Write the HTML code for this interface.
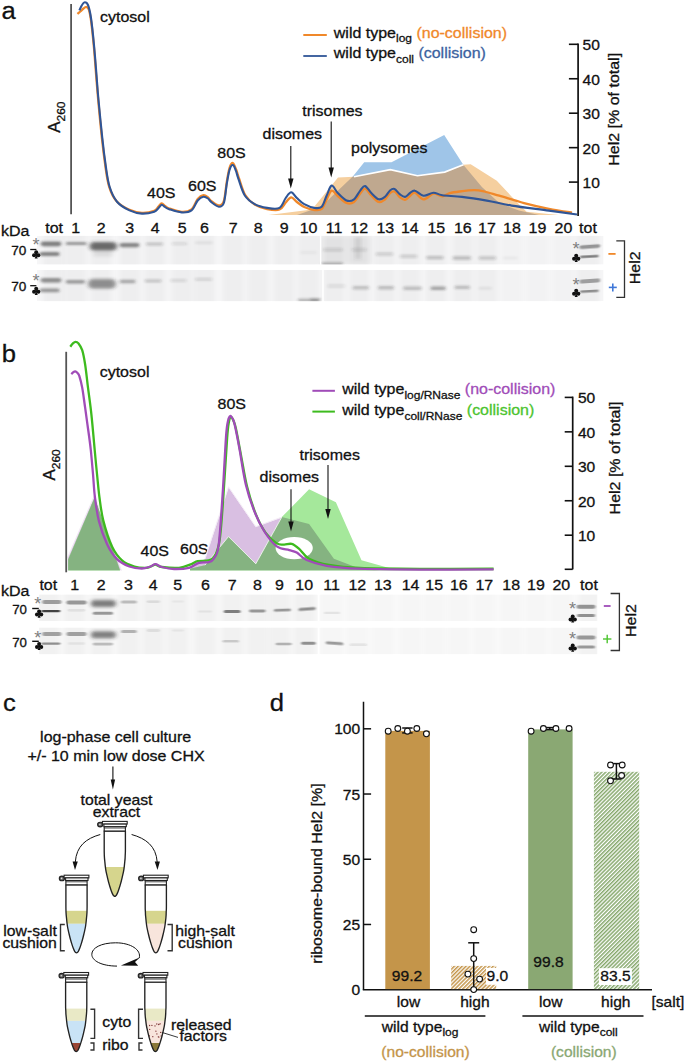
<!DOCTYPE html>
<html><head><meta charset="utf-8"><title>figure</title>
<style>
html,body{margin:0;padding:0;background:#fff;}
body{width:685px;height:1062px;overflow:hidden;font-family:"Liberation Sans",sans-serif;}
svg{display:block;}
svg text{font-family:"Liberation Sans",sans-serif;}
</style></head><body>
<svg width="685" height="1062" viewBox="0 0 685 1062">
<defs>
<filter id="b1" x="-20%" y="-200%" width="140%" height="500%"><feGaussianBlur stdDeviation="1.5 1.1"/></filter>
<filter id="b2" x="-20%" y="-200%" width="140%" height="500%"><feGaussianBlur stdDeviation="2.0 1.6"/></filter>
<filter id="b4" x="-20%" y="-200%" width="140%" height="500%"><feGaussianBlur stdDeviation="1.2 0.75"/></filter>
<filter id="bl" x="-50%" y="-20%" width="200%" height="140%"><feGaussianBlur stdDeviation="2.4 0.1"/></filter>
<filter id="b3" x="-20%" y="-100%" width="140%" height="300%"><feGaussianBlur stdDeviation="3 2.5"/></filter>
<pattern id="hO" width="2.75" height="2.75" patternUnits="userSpaceOnUse" patternTransform="rotate(-45)"><rect width="2.75" height="2.75" fill="#fff"/><rect width="2.75" height="1.5" fill="#c4954a"/></pattern>
<pattern id="hG" width="2.75" height="2.75" patternUnits="userSpaceOnUse" patternTransform="rotate(-45)"><rect width="2.75" height="2.75" fill="#fff"/><rect width="2.75" height="1.5" fill="#86a86c"/></pattern>
</defs>
<rect width="685" height="1062" fill="#fff"/>

<text transform="translate(1.6,18.6) scale(1.045,1)" font-size="24.50" fill="#111" stroke="#111" stroke-width="0.3" text-anchor="start" >a</text>
<polygon points="297.0,215.0 321.0,206.8 353.0,176.2 364.2,162.2 391.5,162.2 444.2,134.9 463.3,164.7 481.9,187.0 499.3,203.1 519.0,210.6 539.0,215.0" fill="#9fc5e8" fill-opacity="1" />
<polygon points="268.5,215.0 312.0,209.5 338.0,177.5 354.0,176.8 390.3,169.6 417.4,175.8 444.7,172.1 463.3,164.7 470.7,164.2 496.8,180.8 516.6,201.9 526.6,211.8 558.8,215.0" fill="#f5cf9f" fill-opacity="1" />
<clipPath id="cpA"><polygon points="268.5,215 312,209.5 338,177.5 354,176.8 390.3,169.6 417.4,175.8 444.7,172.1 463.3,164.7 470.7,164.2 496.8,180.8 516.6,201.9 526.6,211.8 558.8,215"/></clipPath>
<g clip-path="url(#cpA)">
<polygon points="297.0,215.0 321.0,206.8 353.0,176.2 364.2,162.2 391.5,162.2 444.2,134.9 463.3,164.7 481.9,187.0 499.3,203.1 519.0,210.6 539.0,215.0" fill="#bfa88f" fill-opacity="1" />
</g>
<clipPath id="cpB"><polygon points="297,215 321,206.8 353,176.2 364.2,162.2 391.5,162.2 444.2,134.9 463.3,164.7 481.9,187 499.3,203.1 519,210.6 539,215"/></clipPath>
<g clip-path="url(#cpB)"><polyline points="354,176.8 390.3,169.6 417.4,175.8 444.7,172.1 463.3,164.7 470.7,164.2" fill="none" stroke="#fff" stroke-width="1.6"/></g>
<line x1="71.1" y1="4" x2="71.1" y2="214.3" stroke="#555" stroke-width="1.8" />
<path d="M77.4,13.9 C78.0,13.4 80.0,11.9 81.0,11.0 C82.0,10.1 82.6,9.2 83.5,8.5 C84.4,7.8 85.6,6.8 86.5,7.0 C87.4,7.2 88.2,7.2 89.0,10.0 C89.8,12.8 90.7,17.7 91.5,24.0 C92.3,30.3 93.2,39.3 94.0,48.0 C94.8,56.7 95.5,67.3 96.2,76.0 C96.9,84.7 97.3,89.8 98.2,100.0 C99.1,110.2 100.6,126.0 101.8,137.2 C103.0,148.4 104.3,158.7 105.5,167.0 C106.7,175.3 107.4,181.1 109.2,186.8 C111.0,192.5 113.2,197.4 116.6,201.2 C120.0,205.0 125.3,207.9 129.5,209.8 C133.7,211.7 137.8,212.7 141.9,212.8 C146.0,213.0 151.5,211.8 154.3,210.7 C157.1,209.6 157.3,207.7 158.5,206.5 C159.7,205.3 160.6,203.6 161.7,203.5 C162.8,203.4 163.8,205.2 165.0,206.0 C166.2,206.8 166.4,207.5 169.2,208.5 C172.0,209.5 177.9,211.7 181.6,211.8 C185.3,212.0 188.8,211.5 191.5,209.4 C194.2,207.3 195.7,201.4 197.7,199.0 C199.7,196.6 201.7,195.4 203.4,195.2 C205.1,194.9 206.7,196.5 208.0,197.5 C209.3,198.5 209.6,199.9 211.4,201.2 C213.2,202.5 216.7,205.5 218.8,205.5 C220.9,205.5 222.5,204.8 223.8,201.0 C225.1,197.2 225.8,187.9 226.7,182.4 C227.6,176.9 228.5,171.2 229.5,168.0 C230.5,164.8 231.8,162.7 232.9,163.0 C234.0,163.3 235.3,167.4 236.3,170.0 C237.3,172.6 237.5,174.2 239.0,178.4 C240.5,182.6 242.6,190.7 245.2,195.0 C247.8,199.3 251.0,202.2 254.7,204.5 C258.4,206.8 263.0,208.2 267.1,209.0 C271.2,209.8 276.4,210.6 279.5,209.5 C282.6,208.4 283.8,204.5 285.7,202.5 C287.6,200.5 289.3,197.4 291.2,197.3 C293.1,197.2 294.7,200.4 296.9,202.0 C299.1,203.6 301.4,205.7 304.3,207.0 C307.2,208.3 311.4,209.7 314.3,210.0 C317.2,210.3 319.6,210.8 321.7,209.0 C323.8,207.2 325.0,202.6 326.7,199.5 C328.4,196.4 329.8,191.2 331.6,190.6 C333.5,190.0 335.3,193.9 337.8,196.0 C340.3,198.1 343.8,202.0 346.5,203.0 C349.2,204.0 351.7,203.6 354.0,202.0 C356.3,200.4 358.3,195.8 360.2,193.6 C362.1,191.4 363.2,188.3 365.1,188.6 C367.0,188.9 369.0,193.3 371.3,195.5 C373.6,197.7 376.5,201.3 378.8,202.0 C381.1,202.7 383.1,201.0 385.0,199.5 C386.9,198.0 388.4,194.3 390.0,193.0 C391.6,191.7 392.8,190.8 394.5,191.5 C396.2,192.2 398.2,196.0 400.0,197.4 C401.8,198.8 403.3,200.1 405.0,199.9 C406.7,199.7 408.4,197.2 410.0,196.0 C411.6,194.8 412.6,192.1 414.9,192.7 C417.2,193.3 420.5,199.2 423.6,199.4 C426.7,199.6 430.4,194.2 433.5,193.7 C436.6,193.2 439.5,196.5 442.2,196.4 C444.9,196.3 446.7,194.0 449.6,193.2 C452.5,192.4 455.5,192.0 459.6,191.5 C463.7,191.0 470.3,190.2 474.4,190.2 C478.5,190.2 480.2,190.6 484.4,191.5 C488.5,192.4 492.7,193.8 499.3,195.7 C505.9,197.6 515.7,200.9 524.0,203.1 C532.3,205.3 540.9,207.2 548.9,208.8 C556.9,210.4 568.1,212.0 572.0,212.6" fill="none" stroke="#f0882a" stroke-width="2.3"/>
<path d="M79.4,10.4 C79.8,9.5 81.1,6.3 82.0,5.0 C82.9,3.6 83.8,2.3 84.8,2.3 C85.8,2.3 87.0,2.4 88.0,5.0 C89.0,7.6 90.0,11.3 91.0,18.0 C92.0,24.7 93.1,35.5 94.0,45.0 C94.9,54.5 95.8,65.8 96.5,75.0 C97.2,84.2 97.5,89.6 98.5,100.0 C99.5,110.4 101.0,126.0 102.2,137.2 C103.4,148.4 104.7,158.7 105.9,167.0 C107.1,175.3 107.8,181.0 109.6,186.8 C111.4,192.6 113.7,197.8 117.0,201.7 C120.3,205.6 125.3,208.4 129.5,210.4 C133.7,212.4 137.8,213.4 141.9,213.6 C146.0,213.8 151.5,212.6 154.3,211.7 C157.1,210.8 157.3,209.2 158.5,208.0 C159.7,206.8 160.6,204.9 161.7,204.7 C162.8,204.5 163.8,206.2 165.0,207.0 C166.2,207.8 166.4,208.3 169.2,209.2 C172.0,210.1 177.9,212.2 181.6,212.4 C185.3,212.6 188.8,212.4 191.5,210.4 C194.2,208.4 195.7,202.8 197.7,200.5 C199.7,198.2 201.7,197.1 203.4,196.8 C205.1,196.5 206.7,197.6 208.0,198.5 C209.3,199.4 209.6,200.8 211.4,202.2 C213.2,203.6 216.7,206.6 218.8,206.7 C220.9,206.8 222.5,206.7 223.8,203.0 C225.1,199.3 225.8,189.9 226.7,184.4 C227.6,178.9 228.5,173.2 229.5,170.0 C230.5,166.8 231.8,164.8 232.9,165.0 C234.0,165.2 235.1,168.6 236.0,171.0 C236.9,173.4 237.1,175.3 238.6,179.4 C240.1,183.5 242.1,191.4 244.8,195.5 C247.5,199.6 251.0,202.1 254.7,204.2 C258.4,206.3 263.0,207.3 267.1,207.9 C271.2,208.5 276.4,209.6 279.5,207.9 C282.6,206.2 283.8,200.6 285.7,198.0 C287.6,195.4 289.3,192.3 291.2,192.3 C293.1,192.3 294.7,196.0 296.9,198.0 C299.1,200.0 301.4,202.5 304.3,204.2 C307.2,205.8 311.4,207.5 314.3,207.9 C317.2,208.3 319.6,208.8 321.7,206.7 C323.8,204.6 325.0,199.0 326.7,195.5 C328.4,192.0 329.8,186.0 331.6,185.6 C333.5,185.2 335.3,190.5 337.8,193.0 C340.3,195.5 343.8,199.4 346.5,200.5 C349.2,201.6 351.7,201.0 354.0,199.3 C356.3,197.7 358.3,192.8 360.2,190.6 C362.1,188.4 363.2,185.7 365.1,186.1 C367.0,186.5 369.0,190.8 371.3,193.0 C373.6,195.2 376.5,198.7 378.8,199.3 C381.1,199.9 383.1,198.3 385.0,196.8 C386.9,195.3 388.4,191.8 390.0,190.5 C391.6,189.2 392.8,188.3 394.5,189.0 C396.2,189.7 398.2,193.1 400.0,194.4 C401.8,195.7 403.3,197.1 405.0,196.9 C406.7,196.7 408.4,194.0 410.0,193.0 C411.6,192.0 412.6,190.2 414.9,190.7 C417.2,191.1 420.5,195.4 423.6,195.7 C426.7,196.0 430.4,192.8 433.5,192.7 C436.6,192.6 437.4,194.5 442.2,195.2 C446.9,195.9 454.6,196.0 462.0,196.9 C469.4,197.8 478.5,199.2 486.8,200.6 C495.1,202.0 501.4,203.9 511.7,205.6 C522.0,207.3 538.0,209.1 548.9,210.6 C559.8,212.1 572.3,213.8 577.0,214.5" fill="none" stroke="#2f5597" stroke-width="2.1"/>
<text transform="translate(100,21.7) scale(1.045,1)" font-size="15.31" fill="#111" stroke="#111" stroke-width="0.3" text-anchor="start" >cytosol</text>
<text transform="translate(60.2,132.7) rotate(-90) scale(1.045,1)" font-size="16.08" fill="#111" stroke="#111" stroke-width="0.3">A<tspan font-size="11.48" dy="5.2">260</tspan></text>
<text transform="translate(147,198.3) scale(1.045,1)" font-size="15.31" fill="#111" stroke="#111" stroke-width="0.3" text-anchor="start" >40S</text>
<text transform="translate(188,190.6) scale(1.045,1)" font-size="15.31" fill="#111" stroke="#111" stroke-width="0.3" text-anchor="start" >60S</text>
<text transform="translate(217.3,157.6) scale(1.045,1)" font-size="15.31" fill="#111" stroke="#111" stroke-width="0.3" text-anchor="start" >80S</text>
<text transform="translate(262.5,139.2) scale(1.045,1)" font-size="15.31" fill="#111" stroke="#111" stroke-width="0.3" text-anchor="start" >disomes</text>
<text transform="translate(302.2,116) scale(1.045,1)" font-size="15.31" fill="#111" stroke="#111" stroke-width="0.3" text-anchor="start" >trisomes</text>
<text transform="translate(351,153.4) scale(1.045,1)" font-size="15.31" fill="#111" stroke="#111" stroke-width="0.3" text-anchor="start" >polysomes</text>
<line x1="290.8" y1="146" x2="290.8" y2="179.5" stroke="#111" stroke-width="1.1" />
<polygon points="288.1,178.5 293.5,178.5 290.8,188.5" fill="#111"/>
<line x1="331.2" y1="121.5" x2="331.2" y2="168.5" stroke="#111" stroke-width="1.1" />
<polygon points="328.5,167.5 333.9,167.5 331.2,177.5" fill="#111"/>
<line x1="303.3" y1="35" x2="326.8" y2="35" stroke="#f0882a" stroke-width="2" />
<line x1="303.3" y1="56" x2="326.8" y2="56" stroke="#2f5597" stroke-width="1.8" />
<text transform="translate(333.8,37.5) scale(1.045,1)" font-size="15.31" fill="#111" stroke="#111" stroke-width="0.3">wild type<tspan font-size="11.48" dy="4.5">log</tspan><tspan dy="-4.5" fill="#f0882a" stroke="#f0882a"> (no-collision)</tspan></text>
<text transform="translate(333.8,58.3) scale(1.045,1)" font-size="15.31" fill="#111" stroke="#111" stroke-width="0.3">wild type<tspan font-size="11.48" dy="4.5">coll</tspan><tspan dy="-4.5" fill="#3c62a0" stroke="#3c62a0"> (collision)</tspan></text>
<line x1="578.1" y1="43.5" x2="578.1" y2="216" stroke="#111" stroke-width="1.7" />
<line x1="568.9" y1="44.3" x2="578.1" y2="44.3" stroke="#111" stroke-width="1.6" />
<text transform="translate(582.5,50.199999999999996) scale(1.045,1)" font-size="14.93" fill="#111" stroke="#111" stroke-width="0.3" text-anchor="start" >50</text>
<line x1="568.9" y1="78.75" x2="578.1" y2="78.75" stroke="#111" stroke-width="1.6" />
<text transform="translate(582.5,84.65) scale(1.045,1)" font-size="14.93" fill="#111" stroke="#111" stroke-width="0.3" text-anchor="start" >40</text>
<line x1="568.9" y1="113.2" x2="578.1" y2="113.2" stroke="#111" stroke-width="1.6" />
<text transform="translate(582.5,119.10000000000001) scale(1.045,1)" font-size="14.93" fill="#111" stroke="#111" stroke-width="0.3" text-anchor="start" >30</text>
<line x1="568.9" y1="147.65" x2="578.1" y2="147.65" stroke="#111" stroke-width="1.6" />
<text transform="translate(582.5,153.55) scale(1.045,1)" font-size="14.93" fill="#111" stroke="#111" stroke-width="0.3" text-anchor="start" >20</text>
<line x1="568.9" y1="182.10000000000002" x2="578.1" y2="182.10000000000002" stroke="#111" stroke-width="1.6" />
<text transform="translate(582.5,188.00000000000003) scale(1.045,1)" font-size="14.93" fill="#111" stroke="#111" stroke-width="0.3" text-anchor="start" >10</text>
<text transform="translate(619,109.3) rotate(-90) scale(1.045,1)" font-size="15.31" fill="#111" stroke="#111" stroke-width="0.3" text-anchor="middle">Hel2 [% of total]</text>
<text transform="translate(54.1,232.5) scale(1.045,1)" font-size="15.31" fill="#111" stroke="#111" stroke-width="0.3" text-anchor="middle" >tot</text>
<text transform="translate(75.8,232.5) scale(1.045,1)" font-size="15.31" fill="#111" stroke="#111" stroke-width="0.3" text-anchor="middle" >1</text>
<text transform="translate(101.3,232.5) scale(1.045,1)" font-size="15.31" fill="#111" stroke="#111" stroke-width="0.3" text-anchor="middle" >2</text>
<text transform="translate(129.7,232.5) scale(1.045,1)" font-size="15.31" fill="#111" stroke="#111" stroke-width="0.3" text-anchor="middle" >3</text>
<text transform="translate(155.2,232.5) scale(1.045,1)" font-size="15.31" fill="#111" stroke="#111" stroke-width="0.3" text-anchor="middle" >4</text>
<text transform="translate(182.2,232.5) scale(1.045,1)" font-size="15.31" fill="#111" stroke="#111" stroke-width="0.3" text-anchor="middle" >5</text>
<text transform="translate(204.4,232.5) scale(1.045,1)" font-size="15.31" fill="#111" stroke="#111" stroke-width="0.3" text-anchor="middle" >6</text>
<text transform="translate(233.3,232.5) scale(1.045,1)" font-size="15.31" fill="#111" stroke="#111" stroke-width="0.3" text-anchor="middle" >7</text>
<text transform="translate(258.3,232.5) scale(1.045,1)" font-size="15.31" fill="#111" stroke="#111" stroke-width="0.3" text-anchor="middle" >8</text>
<text transform="translate(284.3,232.5) scale(1.045,1)" font-size="15.31" fill="#111" stroke="#111" stroke-width="0.3" text-anchor="middle" >9</text>
<text transform="translate(308.6,232.5) scale(1.045,1)" font-size="15.31" fill="#111" stroke="#111" stroke-width="0.3" text-anchor="middle" >10</text>
<text transform="translate(334,232.5) scale(1.045,1)" font-size="15.31" fill="#111" stroke="#111" stroke-width="0.3" text-anchor="middle" >11</text>
<text transform="translate(359.2,232.5) scale(1.045,1)" font-size="15.31" fill="#111" stroke="#111" stroke-width="0.3" text-anchor="middle" >12</text>
<text transform="translate(385.3,232.5) scale(1.045,1)" font-size="15.31" fill="#111" stroke="#111" stroke-width="0.3" text-anchor="middle" >13</text>
<text transform="translate(409.8,232.5) scale(1.045,1)" font-size="15.31" fill="#111" stroke="#111" stroke-width="0.3" text-anchor="middle" >14</text>
<text transform="translate(436.3,232.5) scale(1.045,1)" font-size="15.31" fill="#111" stroke="#111" stroke-width="0.3" text-anchor="middle" >15</text>
<text transform="translate(462.8,232.5) scale(1.045,1)" font-size="15.31" fill="#111" stroke="#111" stroke-width="0.3" text-anchor="middle" >16</text>
<text transform="translate(486.9,232.5) scale(1.045,1)" font-size="15.31" fill="#111" stroke="#111" stroke-width="0.3" text-anchor="middle" >17</text>
<text transform="translate(511.9,232.5) scale(1.045,1)" font-size="15.31" fill="#111" stroke="#111" stroke-width="0.3" text-anchor="middle" >18</text>
<text transform="translate(537.5,232.5) scale(1.045,1)" font-size="15.31" fill="#111" stroke="#111" stroke-width="0.3" text-anchor="middle" >19</text>
<text transform="translate(563.5,232.5) scale(1.045,1)" font-size="15.31" fill="#111" stroke="#111" stroke-width="0.3" text-anchor="middle" >20</text>
<text transform="translate(588,232.5) scale(1.045,1)" font-size="15.31" fill="#111" stroke="#111" stroke-width="0.3" text-anchor="middle" >tot</text>
<text transform="translate(1,236) scale(1.045,1)" font-size="15.31" fill="#111" stroke="#111" stroke-width="0.3" text-anchor="start" >kDa</text>
<clipPath id="gA"><rect x="36.9" y="235.8" width="283.1" height="28.8"/><rect x="321.2" y="235.8" width="282.4" height="28.8"/><rect x="36.9" y="270" width="285.5" height="31.3"/><rect x="323.6" y="270" width="280" height="31.3"/></clipPath>
<g clip-path="url(#gA)">
<rect x="36.9" y="235.8" width="283.1" height="28.80000000000001" fill="#f6f6f7"/>
<rect x="321.2" y="235.8" width="282.40000000000003" height="28.80000000000001" fill="#f6f6f7"/>
<rect x="36.9" y="270" width="285.5" height="31.30000000000001" fill="#f6f6f7"/>
<rect x="323.6" y="270" width="280.0" height="31.30000000000001" fill="#f6f6f7"/>
<rect x="43.1" y="234" width="22" height="70" fill="#000" fill-opacity="0.03" filter="url(#bl)"/>
<rect x="65.3" y="234" width="21" height="70" fill="#000" fill-opacity="0.03" filter="url(#bl)"/>
<rect x="90.8" y="234" width="21" height="70" fill="#000" fill-opacity="0.03" filter="url(#bl)"/>
<rect x="119.19999999999999" y="234" width="21" height="70" fill="#000" fill-opacity="0.03" filter="url(#bl)"/>
<rect x="144.7" y="234" width="21" height="70" fill="#000" fill-opacity="0.03" filter="url(#bl)"/>
<rect x="171.7" y="234" width="21" height="70" fill="#000" fill-opacity="0.03" filter="url(#bl)"/>
<rect x="193.9" y="234" width="21" height="70" fill="#000" fill-opacity="0.03" filter="url(#bl)"/>
<rect x="222.8" y="234" width="21" height="70" fill="#000" fill-opacity="0.03" filter="url(#bl)"/>
<rect x="247.8" y="234" width="21" height="70" fill="#000" fill-opacity="0.03" filter="url(#bl)"/>
<rect x="273.8" y="234" width="21" height="70" fill="#000" fill-opacity="0.03" filter="url(#bl)"/>
<rect x="298.1" y="234" width="21" height="70" fill="#000" fill-opacity="0.03" filter="url(#bl)"/>
<rect x="323.5" y="234" width="21" height="70" fill="#000" fill-opacity="0.03" filter="url(#bl)"/>
<rect x="348.7" y="234" width="21" height="70" fill="#000" fill-opacity="0.03" filter="url(#bl)"/>
<rect x="374.8" y="234" width="21" height="70" fill="#000" fill-opacity="0.03" filter="url(#bl)"/>
<rect x="399.3" y="234" width="21" height="70" fill="#000" fill-opacity="0.03" filter="url(#bl)"/>
<rect x="425.8" y="234" width="21" height="70" fill="#000" fill-opacity="0.03" filter="url(#bl)"/>
<rect x="452.3" y="234" width="21" height="70" fill="#000" fill-opacity="0.03" filter="url(#bl)"/>
<rect x="476.4" y="234" width="21" height="70" fill="#000" fill-opacity="0.03" filter="url(#bl)"/>
<rect x="501.4" y="234" width="21" height="70" fill="#000" fill-opacity="0.015" filter="url(#bl)"/>
<rect x="527.0" y="234" width="21" height="70" fill="#000" fill-opacity="0.015" filter="url(#bl)"/>
<rect x="553.0" y="234" width="21" height="70" fill="#000" fill-opacity="0.015" filter="url(#bl)"/>
<rect x="577.0" y="234" width="22" height="70" fill="#000" fill-opacity="0.03" filter="url(#bl)"/>
<rect x="40.6" y="241.4" width="20.7" height="4.8" rx="2.4" fill="#2a2a2a" fill-opacity="0.560" filter="url(#b1)"/>
<rect x="39.4" y="252.1" width="20.2" height="3.8" rx="1.9" fill="#2a2a2a" fill-opacity="0.544" filter="url(#b1)"/>
<rect x="65.7" y="241.9" width="21.0" height="3.2" rx="1.6" fill="#2a2a2a" fill-opacity="0.440" filter="url(#b1)"/>
<rect x="89.7" y="241.9" width="27.3" height="8.5" rx="4.25" fill="#2a2a2a" fill-opacity="0.680" filter="url(#b2)"/>
<rect x="93.0" y="251.5" width="20.0" height="5" rx="2.5" fill="#2a2a2a" fill-opacity="0.080" filter="url(#b2)"/>
<rect x="119.6" y="243.0" width="19.9" height="4.2" rx="2.1" fill="#2a2a2a" fill-opacity="0.528" filter="url(#b1)"/>
<rect x="146.0" y="242.7" width="17.0" height="2.8" rx="1.4" fill="#2a2a2a" fill-opacity="0.240" filter="url(#b1)"/>
<rect x="171.7" y="242.5" width="15.4" height="2.6" rx="1.3" fill="#2a2a2a" fill-opacity="0.128" filter="url(#b1)"/>
<rect x="195.1" y="241.5" width="17.7" height="2.6" rx="1.3" fill="#2a2a2a" fill-opacity="0.080" filter="url(#b1)"/>
<rect x="300.0" y="251.2" width="17.0" height="2.6" rx="1.3" fill="#2a2a2a" fill-opacity="0.048" filter="url(#b1)"/>
<rect x="321" y="236" width="50" height="29" fill="#000" fill-opacity="0.05" filter="url(#b3)"/>
<rect x="323.1" y="248.0" width="19.8" height="3.4" rx="1.7" fill="#2a2a2a" fill-opacity="0.136" filter="url(#b1)"/>
<rect x="321.5" y="262.5" width="21.5" height="2.6" rx="1.3" fill="#2a2a2a" fill-opacity="0.336" filter="url(#b1)"/>
<rect x="351.6" y="248.0" width="15.3" height="3.4" rx="1.7" fill="#2a2a2a" fill-opacity="0.120" filter="url(#b1)"/>
<rect x="355" y="237" width="6" height="22" fill="#555" fill-opacity="0.14" filter="url(#b2)"/>
<rect x="375.7" y="252.5" width="17.5" height="3.2" rx="1.6" fill="#2a2a2a" fill-opacity="0.176" filter="url(#b1)"/>
<rect x="399.8" y="254.7" width="17.5" height="3.2" rx="1.6" fill="#2a2a2a" fill-opacity="0.176" filter="url(#b1)"/>
<rect x="426.1" y="255.9" width="17.5" height="3.4" rx="1.7" fill="#2a2a2a" fill-opacity="0.240" filter="url(#b1)"/>
<rect x="452.4" y="256.3" width="18.8" height="3.4" rx="1.7" fill="#2a2a2a" fill-opacity="0.256" filter="url(#b1)"/>
<rect x="478.6" y="256.3" width="17.6" height="3.4" rx="1.7" fill="#2a2a2a" fill-opacity="0.208" filter="url(#b1)"/>
<rect x="502.7" y="256.7" width="15.3" height="2.6" rx="1.3" fill="#2a2a2a" fill-opacity="0.048" filter="url(#b1)"/>
<rect x="579.4" y="244.7" width="20.8" height="3.8" rx="1.9" fill="#2a2a2a" fill-opacity="0.440" filter="url(#b4)" transform="rotate(-4 589.8 246.6)"/>
<rect x="580.0" y="255.2" width="18.6" height="2.6" rx="1.3" fill="#2a2a2a" fill-opacity="0.576" filter="url(#b4)" transform="rotate(-3 589.3 256.5)"/>
<rect x="40.6" y="278.0" width="20.7" height="4.6" rx="2.3" fill="#2a2a2a" fill-opacity="0.496" filter="url(#b1)"/>
<rect x="39.4" y="288.6" width="20.2" height="3.6" rx="1.8" fill="#2a2a2a" fill-opacity="0.440" filter="url(#b1)"/>
<rect x="65.7" y="279.9" width="19.3" height="3.6" rx="1.8" fill="#2a2a2a" fill-opacity="0.448" filter="url(#b1)"/>
<rect x="88.0" y="279.1" width="28.0" height="9.5" rx="4.75" fill="#2a2a2a" fill-opacity="0.496" filter="url(#b2)"/>
<rect x="119.6" y="279.8" width="16.1" height="3.4" rx="1.7" fill="#2a2a2a" fill-opacity="0.360" filter="url(#b1)"/>
<rect x="144.7" y="279.4" width="16.7" height="2.8" rx="1.4" fill="#2a2a2a" fill-opacity="0.240" filter="url(#b1)"/>
<rect x="170.4" y="279.2" width="16.0" height="2.6" rx="1.3" fill="#2a2a2a" fill-opacity="0.160" filter="url(#b1)"/>
<rect x="195.1" y="277.9" width="17.0" height="2.6" rx="1.3" fill="#2a2a2a" fill-opacity="0.160" filter="url(#b1)"/>
<rect x="297.9" y="298.8" width="21.1" height="2.8" rx="1.4" fill="#2a2a2a" fill-opacity="0.320" filter="url(#b1)"/>
<rect x="310.0" y="298.4" width="11.0" height="2.8" rx="1.4" fill="#2a2a2a" fill-opacity="0.280" filter="url(#b1)"/>
<rect x="327.5" y="284.6" width="17.5" height="3" rx="1.5" fill="#2a2a2a" fill-opacity="0.112" filter="url(#b1)"/>
<rect x="352.5" y="286.1" width="16.6" height="3.4" rx="1.7" fill="#2a2a2a" fill-opacity="0.256" filter="url(#b1)"/>
<rect x="377.9" y="286.1" width="16.2" height="3.4" rx="1.7" fill="#2a2a2a" fill-opacity="0.272" filter="url(#b1)"/>
<rect x="403.3" y="286.6" width="18.4" height="3.4" rx="1.7" fill="#2a2a2a" fill-opacity="0.272" filter="url(#b1)"/>
<rect x="430.5" y="286.5" width="15.3" height="3.6" rx="1.8" fill="#2a2a2a" fill-opacity="0.384" filter="url(#b1)"/>
<rect x="454.5" y="285.7" width="15.4" height="3.4" rx="1.7" fill="#2a2a2a" fill-opacity="0.272" filter="url(#b1)"/>
<rect x="478.6" y="287.0" width="13.2" height="2.6" rx="1.3" fill="#2a2a2a" fill-opacity="0.080" filter="url(#b1)"/>
<rect x="579.4" y="279.1" width="20.8" height="3.8" rx="1.9" fill="#2a2a2a" fill-opacity="0.400" filter="url(#b4)" transform="rotate(-4 589.8 281.0)"/>
<rect x="580.0" y="290.0" width="18.6" height="2.6" rx="1.3" fill="#2a2a2a" fill-opacity="0.496" filter="url(#b4)" transform="rotate(-3 589.3 291.3)"/>
</g>
<text x="36" y="250.70000000000002" font-size="18" fill="#808080" text-anchor="middle" >*</text>
<g fill="#111"><circle cx="36.2" cy="252.3" r="2"/><circle cx="34.05" cy="255.3" r="2"/><circle cx="38.35" cy="255.3" r="2"/><polygon points="36.2,254.2 34.7,258.5 37.7,258.5"/><rect x="35.2" y="253.7" width="2" height="2"/></g>
<text transform="translate(11.2,254.8) scale(1.045,1)" font-size="13.01" fill="#111" stroke="#111" stroke-width="0.3" text-anchor="start" >70</text>
<line x1="30.2" y1="249.5" x2="36.4" y2="249.5" stroke="#111" stroke-width="1.3" />
<text x="36" y="287.4" font-size="18" fill="#808080" text-anchor="middle" >*</text>
<g fill="#111"><circle cx="36.2" cy="288.8" r="2"/><circle cx="34.05" cy="291.8" r="2"/><circle cx="38.35" cy="291.8" r="2"/><polygon points="36.2,290.7 34.7,295.0 37.7,295.0"/><rect x="35.2" y="290.2" width="2" height="2"/></g>
<text transform="translate(11.2,291.0) scale(1.045,1)" font-size="13.01" fill="#111" stroke="#111" stroke-width="0.3" text-anchor="start" >70</text>
<line x1="30.2" y1="285.7" x2="36.4" y2="285.7" stroke="#111" stroke-width="1.3" />
<text x="576" y="255.1" font-size="18" fill="#808080" text-anchor="middle" >*</text>
<g fill="#111"><circle cx="576.2" cy="255.8" r="2"/><circle cx="574.05" cy="258.8" r="2"/><circle cx="578.35" cy="258.8" r="2"/><polygon points="576.2,257.7 574.7,262.0 577.7,262.0"/><rect x="575.2" y="257.2" width="2" height="2"/></g>
<text x="576" y="291.0" font-size="18" fill="#808080" text-anchor="middle" >*</text>
<g fill="#111"><circle cx="576.2" cy="290.8" r="2"/><circle cx="574.05" cy="293.8" r="2"/><circle cx="578.35" cy="293.8" r="2"/><polygon points="576.2,292.7 574.7,297.0 577.7,297.0"/><rect x="575.2" y="292.2" width="2" height="2"/></g>
<line x1="608.4" y1="253.9" x2="615.6" y2="253.9" stroke="#f0882a" stroke-width="1.8" />
<line x1="608.8" y1="287.4" x2="616.8" y2="287.4" stroke="#3f78d8" stroke-width="1.6" />
<line x1="612.8" y1="283.4" x2="612.8" y2="291.4" stroke="#3f78d8" stroke-width="1.6" />
<polyline points="616.3,240.9 624.5,240.9 624.5,297.3 616.3,297.3" fill="none" stroke="#333" stroke-width="1.3"/>
<text transform="translate(639.8,267.8) rotate(-90) scale(1.045,1)" font-size="15.31" fill="#111" stroke="#111" stroke-width="0.3" text-anchor="middle">Hel2</text>
<text transform="translate(1.8,361.6) scale(1.045,1)" font-size="24.50" fill="#111" stroke="#111" stroke-width="0.3" text-anchor="start" >b</text>
<text transform="translate(140.5,556.2) scale(1.045,1)" font-size="15.31" fill="#111" stroke="#111" stroke-width="0.3" text-anchor="start" >40S</text>
<text transform="translate(180,553.6) scale(1.045,1)" font-size="15.31" fill="#111" stroke="#111" stroke-width="0.3" text-anchor="start" >60S</text>
<polygon points="67.6,570.6 67.6,557.6 94.5,495.2 121.5,570.6 190.0,570.6 190.0,568.7 204.9,558.8 228.5,486.8 255.8,526.6 281.8,517.1 309.1,524.1 333.9,558.8 360.0,568.7 380.0,570.6" fill="#d9bfe2" fill-opacity="1" stroke="#fff" stroke-width="0.7"/>
<polygon points="68.2,570.6 68.2,559.6 94.7,497.3 120.0,570.6 190.0,570.6 190.0,568.7 204.9,565.2 228.5,536.6 255.8,563.8 281.8,517.1 309.1,489.3 335.9,502.3 361.5,560.2 389.1,568.1 493.6,569.2 493.6,570.6" fill="#a5e89b" fill-opacity="1" />
<clipPath id="cpC"><polygon points="67.6,570.6 67.6,557.6 94.5,495.2 121.5,570.6 190,570.6 190,568.7 204.9,558.8 228.5,486.8 255.8,526.6 281.8,517.1 309.1,524.1 333.9,558.8 360,568.7 380,570.6"/></clipPath>
<g clip-path="url(#cpC)">
<polygon points="68.2,570.6 68.2,559.6 94.7,497.3 120.0,570.6 190.0,570.6 190.0,568.7 204.9,565.2 228.5,536.6 255.8,563.8 281.8,517.1 309.1,489.3 335.9,502.3 361.5,560.2 389.1,568.1 493.6,569.2 493.6,570.6" fill="#85b381" fill-opacity="1" />
</g>
<polyline points="67.6,557.6 94.5,495.2 121.5,570.6" fill="none" stroke="#f0e6f4" stroke-width="0.8"/>
<polyline points="204.9,558.8 228.5,486.8 255.8,526.6 281.8,517.1" fill="none" stroke="#f4ecf6" stroke-width="0.9"/>
<g clip-path="url(#cpC)"><polyline points="204.9,565.2 228.5,536.6 255.8,563.8 281.8,517.1" fill="none" stroke="#fff" stroke-width="0.9" stroke-opacity="0.85"/></g>
<ellipse cx="294.2" cy="548.1" rx="18.6" ry="11.2" fill="#fff"/>
<line x1="66.2" y1="351.8" x2="66.2" y2="572.3" stroke="#555" stroke-width="1.8" />
<path d="M70.3,346.7 C70.7,346.2 71.8,344.4 72.7,343.6 C73.6,342.8 74.4,341.8 75.4,341.8 C76.4,341.8 77.4,342.0 78.5,343.4 C79.6,344.8 81.1,346.7 82.2,350.2 C83.3,353.7 84.1,358.0 85.1,364.2 C86.1,370.4 87.0,379.8 88.0,387.6 C89.0,395.4 90.1,403.1 91.0,410.9 C91.9,418.7 92.7,427.8 93.3,434.3 C93.9,440.8 94.1,443.4 94.7,450.0 C95.3,456.6 96.2,466.2 97.0,474.0 C97.8,481.8 98.4,489.2 99.4,497.0 C100.5,504.8 101.2,512.3 103.3,520.6 C105.4,528.9 109.0,540.1 112.1,546.7 C115.2,553.3 118.3,557.0 122.0,560.3 C125.7,563.6 130.3,565.2 134.4,566.5 C138.5,567.8 143.9,567.9 146.8,567.8 C149.7,567.7 150.6,566.5 152.0,566.0 C153.4,565.5 153.8,564.4 155.5,564.6 C157.2,564.8 158.1,566.5 162.0,567.0 C165.9,567.5 174.2,568.3 179.1,567.8 C184.0,567.3 188.4,565.2 191.5,564.1 C194.6,563.0 194.8,561.7 197.7,561.1 C200.6,560.5 206.0,561.1 208.8,560.3 C211.7,559.5 213.0,559.8 214.8,556.3 C216.6,552.8 218.4,549.3 219.8,539.0 C221.2,528.7 222.3,511.3 223.5,494.3 C224.7,477.3 226.3,449.3 227.2,437.2 C228.1,425.1 228.4,424.9 229.0,421.5 C229.6,418.1 230.2,417.1 230.9,416.9 C231.6,416.7 232.6,418.6 233.4,420.5 C234.2,422.4 234.7,422.8 235.9,428.5 C237.2,434.2 239.0,444.9 240.9,454.6 C242.8,464.3 244.6,476.9 247.1,486.8 C249.6,496.7 252.7,506.4 255.8,514.1 C258.9,521.8 262.2,527.9 265.7,532.8 C269.2,537.7 273.8,541.4 276.8,543.4 C279.9,545.4 281.5,544.5 284.0,544.6 C286.5,544.7 289.2,543.2 291.7,543.9 C294.2,544.6 296.3,546.4 299.2,548.9 C302.1,551.4 304.1,556.1 309.1,558.8 C314.1,561.5 320.5,563.5 329.0,565.0 C337.5,566.5 344.8,567.4 360.0,568.0 C375.2,568.6 397.7,568.7 420.0,568.8 C442.3,568.9 481.3,568.6 493.6,568.6" fill="none" stroke="#3dbb1e" stroke-width="2.3"/>
<path d="M71.3,374.1 C71.6,373.8 72.5,372.6 73.2,372.2 C73.9,371.8 74.5,371.3 75.2,371.4 C75.9,371.5 76.6,372.1 77.3,372.8 C78.0,373.6 78.5,373.4 79.3,375.9 C80.1,378.4 81.2,382.4 82.2,387.6 C83.2,392.9 84.1,400.6 85.1,407.4 C86.1,414.2 87.0,421.4 88.0,428.5 C89.0,435.6 90.0,442.4 90.8,450.0 C91.6,457.6 92.3,466.2 93.0,474.0 C93.7,481.8 93.9,489.2 94.9,497.0 C95.9,504.8 96.8,512.7 98.8,520.6 C100.8,528.5 104.1,537.8 107.1,544.2 C110.1,550.6 113.3,555.4 117.0,559.1 C120.7,562.8 125.3,564.9 129.4,566.5 C133.5,568.1 138.3,568.5 141.8,568.5 C145.3,568.5 148.2,567.2 150.5,566.5 C152.8,565.8 153.6,564.0 155.5,564.1 C157.4,564.2 158.6,566.2 161.7,567.0 C164.8,567.8 169.5,568.9 174.1,569.0 C178.7,569.1 184.9,568.8 189.0,567.8 C193.1,566.8 195.6,563.8 198.9,562.8 C202.2,561.8 206.4,562.8 208.8,562.1 C211.2,561.4 212.0,561.4 213.6,558.8 C215.2,556.2 217.1,556.3 218.5,546.4 C219.9,536.5 221.1,517.5 222.3,499.3 C223.6,481.1 225.1,450.2 226.0,437.2 C226.9,424.1 227.3,424.5 228.0,421.0 C228.7,417.5 229.4,416.5 230.2,416.1 C230.9,415.7 231.8,417.1 232.5,418.5 C233.2,419.9 233.5,419.6 234.7,424.8 C235.9,430.0 237.8,439.7 239.6,449.6 C241.4,459.5 243.3,474.0 245.8,484.4 C248.3,494.8 251.4,503.8 254.5,511.7 C257.6,519.5 260.7,525.7 264.4,531.5 C268.1,537.3 272.6,543.3 276.8,546.4 C281.0,549.5 286.0,549.1 289.3,550.1 C292.6,551.1 293.8,551.0 296.7,552.6 C299.6,554.2 301.6,557.8 306.6,560.0 C311.6,562.2 317.6,564.3 326.5,565.8 C335.4,567.2 344.4,568.1 360.0,568.7 C375.6,569.3 397.7,569.5 420.0,569.6 C442.3,569.7 481.3,569.3 493.6,569.3" fill="none" stroke="#a04cb8" stroke-width="2.3"/>
<text transform="translate(99.7,376.7) scale(1.045,1)" font-size="15.31" fill="#111" stroke="#111" stroke-width="0.3" text-anchor="start" >cytosol</text>
<text transform="translate(54.8,480.5) rotate(-90) scale(1.045,1)" font-size="16.08" fill="#111" stroke="#111" stroke-width="0.3">A<tspan font-size="11.48" dy="5.2">260</tspan></text>
<text transform="translate(217.5,409.4) scale(1.045,1)" font-size="15.31" fill="#111" stroke="#111" stroke-width="0.3" text-anchor="start" >80S</text>
<text transform="translate(259.5,481.9) scale(1.045,1)" font-size="15.31" fill="#111" stroke="#111" stroke-width="0.3" text-anchor="start" >disomes</text>
<text transform="translate(299.5,459.6) scale(1.045,1)" font-size="15.31" fill="#111" stroke="#111" stroke-width="0.3" text-anchor="start" >trisomes</text>
<line x1="291" y1="489.3" x2="291" y2="522.5" stroke="#111" stroke-width="1.1" />
<polygon points="288.3,521.5 293.7,521.5 291,531.5" fill="#111"/>
<line x1="328" y1="465" x2="328" y2="510.1" stroke="#111" stroke-width="1.1" />
<polygon points="325.3,509.1 330.7,509.1 328,519.1" fill="#111"/>
<line x1="312.4" y1="390.8" x2="334.9" y2="390.8" stroke="#a04cb8" stroke-width="2" />
<line x1="312.4" y1="411.6" x2="334.9" y2="411.6" stroke="#3dbb1e" stroke-width="2" />
<text transform="translate(342.2,394.2) scale(1.045,1)" font-size="15.31" fill="#111" stroke="#111" stroke-width="0.3">wild type<tspan font-size="11.48" dy="4.5">log/RNase</tspan><tspan dy="-4.5" fill="#a04cb8" stroke="#a04cb8"> (no-collision)</tspan></text>
<text transform="translate(342.2,415) scale(1.045,1)" font-size="15.31" fill="#111" stroke="#111" stroke-width="0.3">wild type<tspan font-size="11.48" dy="4.5">coll/RNase</tspan><tspan dy="-4.5" fill="#4cc42f" stroke="#4cc42f"> (collision)</tspan></text>
<line x1="572.7" y1="396.59999999999997" x2="572.7" y2="569.4" stroke="#111" stroke-width="1.7" />
<line x1="564.7" y1="397.4" x2="572.7" y2="397.4" stroke="#111" stroke-width="1.6" />
<text transform="translate(577.9000000000001,403.29999999999995) scale(1.045,1)" font-size="14.93" fill="#111" stroke="#111" stroke-width="0.3" text-anchor="start" >50</text>
<line x1="564.7" y1="431.84999999999997" x2="572.7" y2="431.84999999999997" stroke="#111" stroke-width="1.6" />
<text transform="translate(577.9000000000001,437.74999999999994) scale(1.045,1)" font-size="14.93" fill="#111" stroke="#111" stroke-width="0.3" text-anchor="start" >40</text>
<line x1="564.7" y1="466.29999999999995" x2="572.7" y2="466.29999999999995" stroke="#111" stroke-width="1.6" />
<text transform="translate(577.9000000000001,472.19999999999993) scale(1.045,1)" font-size="14.93" fill="#111" stroke="#111" stroke-width="0.3" text-anchor="start" >30</text>
<line x1="564.7" y1="500.75" x2="572.7" y2="500.75" stroke="#111" stroke-width="1.6" />
<text transform="translate(577.9000000000001,506.65) scale(1.045,1)" font-size="14.93" fill="#111" stroke="#111" stroke-width="0.3" text-anchor="start" >20</text>
<line x1="564.7" y1="535.2" x2="572.7" y2="535.2" stroke="#111" stroke-width="1.6" />
<text transform="translate(577.9000000000001,541.1) scale(1.045,1)" font-size="14.93" fill="#111" stroke="#111" stroke-width="0.3" text-anchor="start" >10</text>
<text transform="translate(620,458) rotate(-90) scale(1.045,1)" font-size="15.31" fill="#111" stroke="#111" stroke-width="0.3" text-anchor="middle">Hel2 [% of total]</text>
<line x1="564.7" y1="569.3" x2="572.7" y2="569.3" stroke="#111" stroke-width="1.6" />
<text transform="translate(48.3,589.6) scale(1.045,1)" font-size="15.31" fill="#111" stroke="#111" stroke-width="0.3" text-anchor="middle" >tot</text>
<text transform="translate(74.6,589.6) scale(1.045,1)" font-size="15.31" fill="#111" stroke="#111" stroke-width="0.3" text-anchor="middle" >1</text>
<text transform="translate(101.2,589.6) scale(1.045,1)" font-size="15.31" fill="#111" stroke="#111" stroke-width="0.3" text-anchor="middle" >2</text>
<text transform="translate(128.5,589.6) scale(1.045,1)" font-size="15.31" fill="#111" stroke="#111" stroke-width="0.3" text-anchor="middle" >3</text>
<text transform="translate(153.2,589.6) scale(1.045,1)" font-size="15.31" fill="#111" stroke="#111" stroke-width="0.3" text-anchor="middle" >4</text>
<text transform="translate(177.8,589.6) scale(1.045,1)" font-size="15.31" fill="#111" stroke="#111" stroke-width="0.3" text-anchor="middle" >5</text>
<text transform="translate(205.5,589.6) scale(1.045,1)" font-size="15.31" fill="#111" stroke="#111" stroke-width="0.3" text-anchor="middle" >6</text>
<text transform="translate(232.1,589.6) scale(1.045,1)" font-size="15.31" fill="#111" stroke="#111" stroke-width="0.3" text-anchor="middle" >7</text>
<text transform="translate(257.5,589.6) scale(1.045,1)" font-size="15.31" fill="#111" stroke="#111" stroke-width="0.3" text-anchor="middle" >8</text>
<text transform="translate(279.5,589.6) scale(1.045,1)" font-size="15.31" fill="#111" stroke="#111" stroke-width="0.3" text-anchor="middle" >9</text>
<text transform="translate(304.2,589.6) scale(1.045,1)" font-size="15.31" fill="#111" stroke="#111" stroke-width="0.3" text-anchor="middle" >10</text>
<text transform="translate(331.5,589.6) scale(1.045,1)" font-size="15.31" fill="#111" stroke="#111" stroke-width="0.3" text-anchor="middle" >11</text>
<text transform="translate(357.3,589.6) scale(1.045,1)" font-size="15.31" fill="#111" stroke="#111" stroke-width="0.3" text-anchor="middle" >12</text>
<text transform="translate(382.8,589.6) scale(1.045,1)" font-size="15.31" fill="#111" stroke="#111" stroke-width="0.3" text-anchor="middle" >13</text>
<text transform="translate(410.6,589.6) scale(1.045,1)" font-size="15.31" fill="#111" stroke="#111" stroke-width="0.3" text-anchor="middle" >14</text>
<text transform="translate(434.2,589.6) scale(1.045,1)" font-size="15.31" fill="#111" stroke="#111" stroke-width="0.3" text-anchor="middle" >15</text>
<text transform="translate(458.8,589.6) scale(1.045,1)" font-size="15.31" fill="#111" stroke="#111" stroke-width="0.3" text-anchor="middle" >16</text>
<text transform="translate(484.3,589.6) scale(1.045,1)" font-size="15.31" fill="#111" stroke="#111" stroke-width="0.3" text-anchor="middle" >17</text>
<text transform="translate(511.2,589.6) scale(1.045,1)" font-size="15.31" fill="#111" stroke="#111" stroke-width="0.3" text-anchor="middle" >18</text>
<text transform="translate(535.9,589.6) scale(1.045,1)" font-size="15.31" fill="#111" stroke="#111" stroke-width="0.3" text-anchor="middle" >19</text>
<text transform="translate(561.3,589.6) scale(1.045,1)" font-size="15.31" fill="#111" stroke="#111" stroke-width="0.3" text-anchor="middle" >20</text>
<text transform="translate(589,589.6) scale(1.045,1)" font-size="15.31" fill="#111" stroke="#111" stroke-width="0.3" text-anchor="middle" >tot</text>
<text transform="translate(1,595.9) scale(1.045,1)" font-size="15.31" fill="#111" stroke="#111" stroke-width="0.3" text-anchor="start" >kDa</text>
<clipPath id="gB"><rect x="38.9" y="594.4" width="278.9" height="26.6"/><rect x="319.4" y="594.4" width="278" height="26.6"/><rect x="38.9" y="627.6" width="278.9" height="26.6"/><rect x="319.4" y="627.6" width="278" height="26.6"/></clipPath>
<g clip-path="url(#gB)">
<rect x="38.9" y="594.4" width="278.90000000000003" height="26.600000000000023" fill="#f8f8f8"/>
<rect x="319.4" y="594.4" width="278.0" height="26.600000000000023" fill="#f9f9f9"/>
<rect x="38.9" y="627.6" width="278.90000000000003" height="26.600000000000023" fill="#f8f8f8"/>
<rect x="319.4" y="627.6" width="278.0" height="26.600000000000023" fill="#f9f9f9"/>
<rect x="37.8" y="592" width="21" height="64" fill="#000" fill-opacity="0.028" filter="url(#bl)"/>
<rect x="64.1" y="592" width="21" height="64" fill="#000" fill-opacity="0.028" filter="url(#bl)"/>
<rect x="90.7" y="592" width="21" height="64" fill="#000" fill-opacity="0.028" filter="url(#bl)"/>
<rect x="118.0" y="592" width="21" height="64" fill="#000" fill-opacity="0.028" filter="url(#bl)"/>
<rect x="142.7" y="592" width="21" height="64" fill="#000" fill-opacity="0.028" filter="url(#bl)"/>
<rect x="167.3" y="592" width="21" height="64" fill="#000" fill-opacity="0.028" filter="url(#bl)"/>
<rect x="195.0" y="592" width="21" height="64" fill="#000" fill-opacity="0.028" filter="url(#bl)"/>
<rect x="221.6" y="592" width="21" height="64" fill="#000" fill-opacity="0.028" filter="url(#bl)"/>
<rect x="247.0" y="592" width="21" height="64" fill="#000" fill-opacity="0.028" filter="url(#bl)"/>
<rect x="269.0" y="592" width="21" height="64" fill="#000" fill-opacity="0.028" filter="url(#bl)"/>
<rect x="293.7" y="592" width="21" height="64" fill="#000" fill-opacity="0.028" filter="url(#bl)"/>
<rect x="321.0" y="592" width="21" height="64" fill="#000" fill-opacity="0.012" filter="url(#bl)"/>
<rect x="346.8" y="592" width="21" height="64" fill="#000" fill-opacity="0.012" filter="url(#bl)"/>
<rect x="372.3" y="592" width="21" height="64" fill="#000" fill-opacity="0.012" filter="url(#bl)"/>
<rect x="400.1" y="592" width="21" height="64" fill="#000" fill-opacity="0.012" filter="url(#bl)"/>
<rect x="423.7" y="592" width="21" height="64" fill="#000" fill-opacity="0.012" filter="url(#bl)"/>
<rect x="448.3" y="592" width="21" height="64" fill="#000" fill-opacity="0.012" filter="url(#bl)"/>
<rect x="473.8" y="592" width="21" height="64" fill="#000" fill-opacity="0.012" filter="url(#bl)"/>
<rect x="500.7" y="592" width="21" height="64" fill="#000" fill-opacity="0.012" filter="url(#bl)"/>
<rect x="525.4" y="592" width="21" height="64" fill="#000" fill-opacity="0.012" filter="url(#bl)"/>
<rect x="550.8" y="592" width="21" height="64" fill="#000" fill-opacity="0.012" filter="url(#bl)"/>
<rect x="578.5" y="592" width="21" height="64" fill="#000" fill-opacity="0.028" filter="url(#bl)"/>
<rect x="42.2" y="600.0" width="19.3" height="4" rx="2.0" fill="#2a2a2a" fill-opacity="0.416" filter="url(#b4)"/>
<rect x="41.4" y="610.0" width="18.9" height="2.2" rx="1.1" fill="#2a2a2a" fill-opacity="0.880" filter="url(#b4)"/>
<rect x="66.5" y="600.6" width="20.1" height="4" rx="2.0" fill="#2a2a2a" fill-opacity="0.440" filter="url(#b4)"/>
<rect x="68.0" y="609.0" width="17.0" height="2.4" rx="1.2" fill="#2a2a2a" fill-opacity="0.096" filter="url(#b4)"/>
<rect x="90.9" y="599.9" width="25.1" height="7" rx="3.5" fill="#2a2a2a" fill-opacity="0.576" filter="url(#b2)"/>
<rect x="92.9" y="611.7" width="20.1" height="3" rx="1.5" fill="#2a2a2a" fill-opacity="0.440" filter="url(#b4)"/>
<rect x="121.0" y="600.6" width="15.8" height="3" rx="1.5" fill="#2a2a2a" fill-opacity="0.280" filter="url(#b4)"/>
<rect x="146.9" y="600.4" width="13.0" height="2.4" rx="1.2" fill="#2a2a2a" fill-opacity="0.120" filter="url(#b4)"/>
<rect x="172.0" y="600.4" width="12.0" height="2.2" rx="1.1" fill="#2a2a2a" fill-opacity="0.048" filter="url(#b4)"/>
<rect x="198.0" y="610.4" width="14.0" height="2.2" rx="1.1" fill="#2a2a2a" fill-opacity="0.064" filter="url(#b4)"/>
<rect x="223.8" y="609.9" width="16.7" height="3" rx="1.5" fill="#2a2a2a" fill-opacity="0.576" filter="url(#b4)"/>
<rect x="249.2" y="609.6" width="16.3" height="2.8" rx="1.4" fill="#2a2a2a" fill-opacity="0.440" filter="url(#b4)"/>
<rect x="273.9" y="608.8" width="17.0" height="2.8" rx="1.4" fill="#2a2a2a" fill-opacity="0.440" filter="url(#b4)" transform="rotate(-2 282.4 610.2)"/>
<rect x="298.5" y="607.6" width="17.1" height="3" rx="1.5" fill="#2a2a2a" fill-opacity="0.496" filter="url(#b4)" transform="rotate(-4 307.05 609.1)"/>
<rect x="324.0" y="611.7" width="16.0" height="2.4" rx="1.2" fill="#2a2a2a" fill-opacity="0.080" filter="url(#b4)"/>
<rect x="576.5" y="604.8" width="18.9" height="4" rx="2.0" fill="#2a2a2a" fill-opacity="0.480" filter="url(#b4)"/>
<rect x="577.0" y="614.0" width="18.0" height="3" rx="1.5" fill="#2a2a2a" fill-opacity="0.496" filter="url(#b4)"/>
<rect x="42.2" y="631.9" width="19.3" height="4" rx="2.0" fill="#2a2a2a" fill-opacity="0.400" filter="url(#b4)"/>
<rect x="41.4" y="642.4" width="18.9" height="2.4" rx="1.2" fill="#2a2a2a" fill-opacity="0.496" filter="url(#b4)"/>
<rect x="66.5" y="632.0" width="20.1" height="4" rx="2.0" fill="#2a2a2a" fill-opacity="0.400" filter="url(#b4)"/>
<rect x="68.0" y="642.3" width="17.0" height="2.4" rx="1.2" fill="#2a2a2a" fill-opacity="0.064" filter="url(#b4)"/>
<rect x="90.9" y="631.3" width="25.1" height="7" rx="3.5" fill="#2a2a2a" fill-opacity="0.560" filter="url(#b2)"/>
<rect x="92.9" y="642.7" width="20.1" height="2.8" rx="1.4" fill="#2a2a2a" fill-opacity="0.280" filter="url(#b4)"/>
<rect x="121.0" y="630.0" width="15.8" height="3" rx="1.5" fill="#2a2a2a" fill-opacity="0.320" filter="url(#b4)"/>
<rect x="146.9" y="629.3" width="13.0" height="2.4" rx="1.2" fill="#2a2a2a" fill-opacity="0.104" filter="url(#b4)"/>
<rect x="172.0" y="629.4" width="12.0" height="2.2" rx="1.1" fill="#2a2a2a" fill-opacity="0.056" filter="url(#b4)"/>
<rect x="222.6" y="640.0" width="16.3" height="2.6" rx="1.3" fill="#2a2a2a" fill-opacity="0.200" filter="url(#b4)"/>
<rect x="275.7" y="642.7" width="16.0" height="2.6" rx="1.3" fill="#2a2a2a" fill-opacity="0.320" filter="url(#b4)"/>
<rect x="301.2" y="641.7" width="14.4" height="3" rx="1.5" fill="#2a2a2a" fill-opacity="0.496" filter="url(#b4)"/>
<rect x="325.8" y="641.7" width="17.5" height="3" rx="1.5" fill="#2a2a2a" fill-opacity="0.440" filter="url(#b4)" transform="rotate(4 334.55 643.2)"/>
<rect x="349.8" y="643.6" width="17.0" height="2.4" rx="1.2" fill="#2a2a2a" fill-opacity="0.096" filter="url(#b4)"/>
<rect x="576.5" y="635.6" width="18.9" height="4" rx="2.0" fill="#2a2a2a" fill-opacity="0.440" filter="url(#b4)"/>
<rect x="577.0" y="645.5" width="18.0" height="3" rx="1.5" fill="#2a2a2a" fill-opacity="0.440" filter="url(#b4)"/>
</g>
<text x="37.7" y="610.1999999999999" font-size="18" fill="#808080" text-anchor="middle" >*</text>
<g fill="#111"><circle cx="39.10000000000001" cy="611.6" r="2"/><circle cx="36.95" cy="614.6" r="2"/><circle cx="41.25" cy="614.6" r="2"/><polygon points="39.10000000000001,613.5 37.60000000000001,617.8 40.60000000000001,617.8"/><rect x="38.10000000000001" y="613.0" width="2" height="2"/></g>
<text transform="translate(12.2,614) scale(1.045,1)" font-size="12.73" fill="#111" stroke="#111" stroke-width="0.3" text-anchor="start" >70</text>
<line x1="32.2" y1="608.5" x2="38.8" y2="608.5" stroke="#111" stroke-width="1.4" />
<text x="37.7" y="643.5" font-size="18" fill="#808080" text-anchor="middle" >*</text>
<g fill="#111"><circle cx="39.10000000000001" cy="643.9" r="2"/><circle cx="36.95" cy="646.9" r="2"/><circle cx="41.25" cy="646.9" r="2"/><polygon points="39.10000000000001,645.8 37.60000000000001,650.1 40.60000000000001,650.1"/><rect x="38.10000000000001" y="645.3" width="2" height="2"/></g>
<text transform="translate(12.2,646.9) scale(1.045,1)" font-size="12.73" fill="#111" stroke="#111" stroke-width="0.3" text-anchor="start" >70</text>
<line x1="32.2" y1="641.3" x2="38.8" y2="641.3" stroke="#111" stroke-width="1.4" />
<text x="572.5" y="615.4" font-size="18" fill="#808080" text-anchor="middle" >*</text>
<g fill="#111"><circle cx="572.7" cy="616.4" r="2"/><circle cx="570.55" cy="619.4" r="2"/><circle cx="574.85" cy="619.4" r="2"/><polygon points="572.7,618.3 571.2,622.6 574.2,622.6"/><rect x="571.7" y="617.8" width="2" height="2"/></g>
<text x="572.5" y="644.6999999999999" font-size="18" fill="#808080" text-anchor="middle" >*</text>
<g fill="#111"><circle cx="572.7" cy="645.6" r="2"/><circle cx="570.55" cy="648.6" r="2"/><circle cx="574.85" cy="648.6" r="2"/><polygon points="572.7,647.5 571.2,651.8 574.2,651.8"/><rect x="571.7" y="647.0" width="2" height="2"/></g>
<line x1="603.8" y1="606" x2="610.6" y2="606" stroke="#a04cb8" stroke-width="1.8" />
<line x1="603" y1="639" x2="611.4" y2="639" stroke="#4cc42f" stroke-width="1.4" />
<line x1="607.2" y1="634.8" x2="607.2" y2="643.2" stroke="#4cc42f" stroke-width="1.4" />
<polyline points="610.6,593.5 619.4,593.5 619.4,650.5 610.6,650.5" fill="none" stroke="#333" stroke-width="1.3"/>
<text transform="translate(636.3,620.5) rotate(-90) scale(1.045,1)" font-size="15.31" fill="#111" stroke="#111" stroke-width="0.3" text-anchor="middle">Hel2</text>
<text transform="translate(3.0,710.9) scale(1.045,1)" font-size="24.50" fill="#111" stroke="#111" stroke-width="0.3" text-anchor="start" >c</text>
<text transform="translate(115.6,742.4) scale(1.045,1)" font-size="15.31" fill="#111" stroke="#111" stroke-width="0.3" text-anchor="middle" >log-phase cell culture</text>
<text transform="translate(116,760.5) scale(1.045,1)" font-size="15.31" fill="#111" stroke="#111" stroke-width="0.3" text-anchor="middle" >+/- 10 min low dose CHX</text>
<line x1="112.9" y1="766.6" x2="112.9" y2="780.6" stroke="#111" stroke-width="1.1" />
<polygon points="110.7,779.6 115.10000000000001,779.6 112.9,789.6" fill="#111"/>
<text transform="translate(116.5,804.9) scale(1.045,1)" font-size="15.12" fill="#111" stroke="#111" stroke-width="0.3" text-anchor="middle" >total yeast</text>
<text transform="translate(116.5,817.4) scale(1.045,1)" font-size="15.12" fill="#111" stroke="#111" stroke-width="0.3" text-anchor="middle" >extract</text>
<clipPath id="t1"><path d="M104.2,831.0 C104.2,834.1 104.2,845.3 104.2,849.4 C104.2,853.5 104.3,853.4 104.3,855.4 C104.4,857.4 104.5,859.1 104.8,861.4 C105.0,863.7 105.3,866.7 105.7,869.4 C106.1,872.1 106.8,874.7 107.4,877.4 C108.0,880.1 108.8,883.1 109.5,885.4 C110.2,887.7 110.8,889.7 111.4,891.2 C112.0,892.7 112.5,893.8 112.9,894.6 C113.3,895.4 113.7,895.6 114.0,895.9 C114.3,896.2 114.5,896.2 114.8,896.2 C115.1,896.2 115.3,896.2 115.6,895.9 C115.9,895.6 116.3,895.4 116.7,894.6 C117.1,893.8 117.6,892.7 118.2,891.2 C118.8,889.7 119.4,887.7 120.1,885.4 C120.8,883.1 121.6,880.1 122.2,877.4 C122.8,874.7 123.5,872.1 123.9,869.4 C124.3,866.7 124.6,863.7 124.8,861.4 C125.1,859.1 125.2,857.4 125.2,855.4 C125.3,853.4 125.4,853.5 125.4,849.4 C125.4,845.3 125.4,834.1 125.4,831.0 Z"/></clipPath>
<path d="M104.2,831.0 C104.2,834.1 104.2,845.3 104.2,849.4 C104.2,853.5 104.3,853.4 104.3,855.4 C104.4,857.4 104.5,859.1 104.8,861.4 C105.0,863.7 105.3,866.7 105.7,869.4 C106.1,872.1 106.8,874.7 107.4,877.4 C108.0,880.1 108.8,883.1 109.5,885.4 C110.2,887.7 110.8,889.7 111.4,891.2 C112.0,892.7 112.5,893.8 112.9,894.6 C113.3,895.4 113.7,895.6 114.0,895.9 C114.3,896.2 114.5,896.2 114.8,896.2 C115.1,896.2 115.3,896.2 115.6,895.9 C115.9,895.6 116.3,895.4 116.7,894.6 C117.1,893.8 117.6,892.7 118.2,891.2 C118.8,889.7 119.4,887.7 120.1,885.4 C120.8,883.1 121.6,880.1 122.2,877.4 C122.8,874.7 123.5,872.1 123.9,869.4 C124.3,866.7 124.6,863.7 124.8,861.4 C125.1,859.1 125.2,857.4 125.2,855.4 C125.3,853.4 125.4,853.5 125.4,849.4 C125.4,845.3 125.4,834.1 125.4,831.0 Z" fill="#fff"/>
<g clip-path="url(#t1)">
<rect x="103.2" y="867" width="23.2" height="33" fill="#d6d58d"/>
</g>
<path d="M104.2,831.0 C104.2,834.1 104.2,845.3 104.2,849.4 C104.2,853.5 104.3,853.4 104.3,855.4 C104.4,857.4 104.5,859.1 104.8,861.4 C105.0,863.7 105.3,866.7 105.7,869.4 C106.1,872.1 106.8,874.7 107.4,877.4 C108.0,880.1 108.8,883.1 109.5,885.4 C110.2,887.7 110.8,889.7 111.4,891.2 C112.0,892.7 112.5,893.8 112.9,894.6 C113.3,895.4 113.7,895.6 114.0,895.9 C114.3,896.2 114.5,896.2 114.8,896.2 C115.1,896.2 115.3,896.2 115.6,895.9 C115.9,895.6 116.3,895.4 116.7,894.6 C117.1,893.8 117.6,892.7 118.2,891.2 C118.8,889.7 119.4,887.7 120.1,885.4 C120.8,883.1 121.6,880.1 122.2,877.4 C122.8,874.7 123.5,872.1 123.9,869.4 C124.3,866.7 124.6,863.7 124.8,861.4 C125.1,859.1 125.2,857.4 125.2,855.4 C125.3,853.4 125.4,853.5 125.4,849.4 C125.4,845.3 125.4,834.1 125.4,831.0 Z" fill="none" stroke="#222" stroke-width="1.35" stroke-linejoin="round"/>
<ellipse cx="100.2" cy="824.6" rx="2.6" ry="2.3" fill="#666" stroke="#222" stroke-width="1.1"/>
<circle cx="99.89999999999999" cy="824.6" r="0.8" fill="#ddd"/>
<rect x="102.39999999999999" y="821.4" width="24.8" height="2.7" fill="#fff" stroke="#222" stroke-width="1.1"/>
<rect x="103.89999999999999" y="824.1" width="22.4" height="2.6" fill="#fff" stroke="#222" stroke-width="1.1"/>
<rect x="104.2" y="826.6999999999999" width="21.2" height="4.3" fill="#fff" stroke="#222" stroke-width="1.1"/>
<line x1="104.2" y1="828.0" x2="125.39999999999999" y2="828.0" stroke="#222" stroke-width="0.8" />
<clipPath id="t2"><path d="M65.9,884.8 C65.9,888.3 65.9,901.5 65.9,906.0 C65.9,910.5 66.0,910.0 66.0,912.0 C66.1,914.0 66.2,915.7 66.5,918.0 C66.7,920.3 67.0,923.3 67.4,926.0 C67.8,928.7 68.5,931.3 69.1,934.0 C69.7,936.7 70.5,939.7 71.2,942.0 C71.9,944.3 72.5,946.3 73.1,947.8 C73.7,949.3 74.2,950.4 74.6,951.2 C75.0,952.0 75.4,952.2 75.7,952.5 C76.0,952.8 76.2,952.8 76.5,952.8 C76.8,952.8 77.0,952.8 77.3,952.5 C77.6,952.2 78.0,952.0 78.4,951.2 C78.8,950.4 79.3,949.3 79.9,947.8 C80.5,946.3 81.1,944.3 81.8,942.0 C82.5,939.7 83.3,936.7 83.9,934.0 C84.5,931.3 85.2,928.7 85.6,926.0 C86.0,923.3 86.3,920.3 86.5,918.0 C86.8,915.7 86.9,914.0 87.0,912.0 C87.0,910.0 87.1,910.5 87.1,906.0 C87.1,901.5 87.1,888.3 87.1,884.8 Z"/></clipPath>
<path d="M65.9,884.8 C65.9,888.3 65.9,901.5 65.9,906.0 C65.9,910.5 66.0,910.0 66.0,912.0 C66.1,914.0 66.2,915.7 66.5,918.0 C66.7,920.3 67.0,923.3 67.4,926.0 C67.8,928.7 68.5,931.3 69.1,934.0 C69.7,936.7 70.5,939.7 71.2,942.0 C71.9,944.3 72.5,946.3 73.1,947.8 C73.7,949.3 74.2,950.4 74.6,951.2 C75.0,952.0 75.4,952.2 75.7,952.5 C76.0,952.8 76.2,952.8 76.5,952.8 C76.8,952.8 77.0,952.8 77.3,952.5 C77.6,952.2 78.0,952.0 78.4,951.2 C78.8,950.4 79.3,949.3 79.9,947.8 C80.5,946.3 81.1,944.3 81.8,942.0 C82.5,939.7 83.3,936.7 83.9,934.0 C84.5,931.3 85.2,928.7 85.6,926.0 C86.0,923.3 86.3,920.3 86.5,918.0 C86.8,915.7 86.9,914.0 87.0,912.0 C87.0,910.0 87.1,910.5 87.1,906.0 C87.1,901.5 87.1,888.3 87.1,884.8 Z" fill="#fff"/>
<g clip-path="url(#t2)">
<rect x="64.9" y="910.8" width="23.2" height="13.0" fill="#d6d58d"/>
<rect x="64.9" y="923.8" width="23.2" height="36.200000000000045" fill="#c9e3f6"/>
</g>
<path d="M65.9,884.8 C65.9,888.3 65.9,901.5 65.9,906.0 C65.9,910.5 66.0,910.0 66.0,912.0 C66.1,914.0 66.2,915.7 66.5,918.0 C66.7,920.3 67.0,923.3 67.4,926.0 C67.8,928.7 68.5,931.3 69.1,934.0 C69.7,936.7 70.5,939.7 71.2,942.0 C71.9,944.3 72.5,946.3 73.1,947.8 C73.7,949.3 74.2,950.4 74.6,951.2 C75.0,952.0 75.4,952.2 75.7,952.5 C76.0,952.8 76.2,952.8 76.5,952.8 C76.8,952.8 77.0,952.8 77.3,952.5 C77.6,952.2 78.0,952.0 78.4,951.2 C78.8,950.4 79.3,949.3 79.9,947.8 C80.5,946.3 81.1,944.3 81.8,942.0 C82.5,939.7 83.3,936.7 83.9,934.0 C84.5,931.3 85.2,928.7 85.6,926.0 C86.0,923.3 86.3,920.3 86.5,918.0 C86.8,915.7 86.9,914.0 87.0,912.0 C87.0,910.0 87.1,910.5 87.1,906.0 C87.1,901.5 87.1,888.3 87.1,884.8 Z" fill="none" stroke="#222" stroke-width="1.35" stroke-linejoin="round"/>
<ellipse cx="61.9" cy="878.4000000000001" rx="2.6" ry="2.3" fill="#666" stroke="#222" stroke-width="1.1"/>
<circle cx="61.6" cy="878.4000000000001" r="0.8" fill="#ddd"/>
<rect x="64.1" y="875.2" width="24.8" height="2.7" fill="#fff" stroke="#222" stroke-width="1.1"/>
<rect x="65.6" y="877.9000000000001" width="22.4" height="2.6" fill="#fff" stroke="#222" stroke-width="1.1"/>
<rect x="65.9" y="880.5" width="21.2" height="4.3" fill="#fff" stroke="#222" stroke-width="1.1"/>
<line x1="65.9" y1="881.8000000000001" x2="87.1" y2="881.8000000000001" stroke="#222" stroke-width="0.8" />
<clipPath id="t3"><path d="M145.2,884.8 C145.2,888.3 145.2,901.5 145.2,906.0 C145.2,910.5 145.3,910.0 145.4,912.0 C145.4,914.0 145.5,915.7 145.8,918.0 C146.0,920.3 146.3,923.3 146.7,926.0 C147.1,928.7 147.8,931.3 148.4,934.0 C149.0,936.7 149.8,939.7 150.5,942.0 C151.2,944.3 151.8,946.3 152.4,947.8 C153.0,949.3 153.5,950.4 153.9,951.2 C154.3,952.0 154.7,952.2 155.0,952.5 C155.3,952.8 155.5,952.8 155.8,952.8 C156.1,952.8 156.3,952.8 156.6,952.5 C156.9,952.2 157.3,952.0 157.7,951.2 C158.1,950.4 158.6,949.3 159.2,947.8 C159.8,946.3 160.4,944.3 161.1,942.0 C161.8,939.7 162.6,936.7 163.2,934.0 C163.8,931.3 164.5,928.7 164.9,926.0 C165.3,923.3 165.6,920.3 165.9,918.0 C166.1,915.7 166.2,914.0 166.2,912.0 C166.3,910.0 166.4,910.5 166.4,906.0 C166.4,901.5 166.4,888.3 166.4,884.8 Z"/></clipPath>
<path d="M145.2,884.8 C145.2,888.3 145.2,901.5 145.2,906.0 C145.2,910.5 145.3,910.0 145.4,912.0 C145.4,914.0 145.5,915.7 145.8,918.0 C146.0,920.3 146.3,923.3 146.7,926.0 C147.1,928.7 147.8,931.3 148.4,934.0 C149.0,936.7 149.8,939.7 150.5,942.0 C151.2,944.3 151.8,946.3 152.4,947.8 C153.0,949.3 153.5,950.4 153.9,951.2 C154.3,952.0 154.7,952.2 155.0,952.5 C155.3,952.8 155.5,952.8 155.8,952.8 C156.1,952.8 156.3,952.8 156.6,952.5 C156.9,952.2 157.3,952.0 157.7,951.2 C158.1,950.4 158.6,949.3 159.2,947.8 C159.8,946.3 160.4,944.3 161.1,942.0 C161.8,939.7 162.6,936.7 163.2,934.0 C163.8,931.3 164.5,928.7 164.9,926.0 C165.3,923.3 165.6,920.3 165.9,918.0 C166.1,915.7 166.2,914.0 166.2,912.0 C166.3,910.0 166.4,910.5 166.4,906.0 C166.4,901.5 166.4,888.3 166.4,884.8 Z" fill="#fff"/>
<g clip-path="url(#t3)">
<rect x="144.20000000000002" y="910.8" width="23.2" height="13.0" fill="#d6d58d"/>
<rect x="144.20000000000002" y="923.8" width="23.2" height="36.200000000000045" fill="#f8e5dc"/>
</g>
<path d="M145.2,884.8 C145.2,888.3 145.2,901.5 145.2,906.0 C145.2,910.5 145.3,910.0 145.4,912.0 C145.4,914.0 145.5,915.7 145.8,918.0 C146.0,920.3 146.3,923.3 146.7,926.0 C147.1,928.7 147.8,931.3 148.4,934.0 C149.0,936.7 149.8,939.7 150.5,942.0 C151.2,944.3 151.8,946.3 152.4,947.8 C153.0,949.3 153.5,950.4 153.9,951.2 C154.3,952.0 154.7,952.2 155.0,952.5 C155.3,952.8 155.5,952.8 155.8,952.8 C156.1,952.8 156.3,952.8 156.6,952.5 C156.9,952.2 157.3,952.0 157.7,951.2 C158.1,950.4 158.6,949.3 159.2,947.8 C159.8,946.3 160.4,944.3 161.1,942.0 C161.8,939.7 162.6,936.7 163.2,934.0 C163.8,931.3 164.5,928.7 164.9,926.0 C165.3,923.3 165.6,920.3 165.9,918.0 C166.1,915.7 166.2,914.0 166.2,912.0 C166.3,910.0 166.4,910.5 166.4,906.0 C166.4,901.5 166.4,888.3 166.4,884.8 Z" fill="none" stroke="#222" stroke-width="1.35" stroke-linejoin="round"/>
<ellipse cx="141.20000000000002" cy="878.4000000000001" rx="2.6" ry="2.3" fill="#666" stroke="#222" stroke-width="1.1"/>
<circle cx="140.9" cy="878.4000000000001" r="0.8" fill="#ddd"/>
<rect x="143.4" y="875.2" width="24.8" height="2.7" fill="#fff" stroke="#222" stroke-width="1.1"/>
<rect x="144.9" y="877.9000000000001" width="22.4" height="2.6" fill="#fff" stroke="#222" stroke-width="1.1"/>
<rect x="145.20000000000002" y="880.5" width="21.2" height="4.3" fill="#fff" stroke="#222" stroke-width="1.1"/>
<line x1="145.20000000000002" y1="881.8000000000001" x2="166.4" y2="881.8000000000001" stroke="#222" stroke-width="0.8" />
<clipPath id="t4"><path d="M65.6,982.1 C65.6,985.9 65.6,1000.0 65.6,1004.8 C65.6,1009.6 65.7,1008.8 65.8,1010.8 C65.8,1012.8 65.9,1014.5 66.2,1016.8 C66.4,1019.1 66.7,1022.1 67.1,1024.8 C67.5,1027.5 68.2,1030.1 68.8,1032.8 C69.4,1035.5 70.2,1038.5 70.9,1040.8 C71.6,1043.1 72.2,1045.1 72.8,1046.6 C73.4,1048.1 73.9,1049.2 74.3,1050.0 C74.7,1050.8 75.1,1051.0 75.4,1051.3 C75.7,1051.6 75.9,1051.6 76.2,1051.6 C76.5,1051.6 76.7,1051.6 77.0,1051.3 C77.3,1051.0 77.7,1050.8 78.1,1050.0 C78.5,1049.2 79.0,1048.1 79.6,1046.6 C80.2,1045.1 80.8,1043.1 81.5,1040.8 C82.2,1038.5 83.0,1035.5 83.6,1032.8 C84.2,1030.1 84.9,1027.5 85.3,1024.8 C85.7,1022.1 86.0,1019.1 86.2,1016.8 C86.5,1014.5 86.6,1012.8 86.7,1010.8 C86.7,1008.8 86.8,1009.6 86.8,1004.8 C86.8,1000.0 86.8,985.9 86.8,982.1 Z"/></clipPath>
<path d="M65.6,982.1 C65.6,985.9 65.6,1000.0 65.6,1004.8 C65.6,1009.6 65.7,1008.8 65.8,1010.8 C65.8,1012.8 65.9,1014.5 66.2,1016.8 C66.4,1019.1 66.7,1022.1 67.1,1024.8 C67.5,1027.5 68.2,1030.1 68.8,1032.8 C69.4,1035.5 70.2,1038.5 70.9,1040.8 C71.6,1043.1 72.2,1045.1 72.8,1046.6 C73.4,1048.1 73.9,1049.2 74.3,1050.0 C74.7,1050.8 75.1,1051.0 75.4,1051.3 C75.7,1051.6 75.9,1051.6 76.2,1051.6 C76.5,1051.6 76.7,1051.6 77.0,1051.3 C77.3,1051.0 77.7,1050.8 78.1,1050.0 C78.5,1049.2 79.0,1048.1 79.6,1046.6 C80.2,1045.1 80.8,1043.1 81.5,1040.8 C82.2,1038.5 83.0,1035.5 83.6,1032.8 C84.2,1030.1 84.9,1027.5 85.3,1024.8 C85.7,1022.1 86.0,1019.1 86.2,1016.8 C86.5,1014.5 86.6,1012.8 86.7,1010.8 C86.7,1008.8 86.8,1009.6 86.8,1004.8 C86.8,1000.0 86.8,985.9 86.8,982.1 Z" fill="#fff"/>
<g clip-path="url(#t4)">
<rect x="64.60000000000001" y="1008.6" width="23.2" height="12.299999999999955" fill="#e9e9c6"/>
<rect x="64.60000000000001" y="1020.9" width="23.2" height="22.100000000000023" fill="#c9e3f6"/>
<rect x="64.60000000000001" y="1043" width="23.2" height="13" fill="#9a4636"/>
</g>
<path d="M65.6,982.1 C65.6,985.9 65.6,1000.0 65.6,1004.8 C65.6,1009.6 65.7,1008.8 65.8,1010.8 C65.8,1012.8 65.9,1014.5 66.2,1016.8 C66.4,1019.1 66.7,1022.1 67.1,1024.8 C67.5,1027.5 68.2,1030.1 68.8,1032.8 C69.4,1035.5 70.2,1038.5 70.9,1040.8 C71.6,1043.1 72.2,1045.1 72.8,1046.6 C73.4,1048.1 73.9,1049.2 74.3,1050.0 C74.7,1050.8 75.1,1051.0 75.4,1051.3 C75.7,1051.6 75.9,1051.6 76.2,1051.6 C76.5,1051.6 76.7,1051.6 77.0,1051.3 C77.3,1051.0 77.7,1050.8 78.1,1050.0 C78.5,1049.2 79.0,1048.1 79.6,1046.6 C80.2,1045.1 80.8,1043.1 81.5,1040.8 C82.2,1038.5 83.0,1035.5 83.6,1032.8 C84.2,1030.1 84.9,1027.5 85.3,1024.8 C85.7,1022.1 86.0,1019.1 86.2,1016.8 C86.5,1014.5 86.6,1012.8 86.7,1010.8 C86.7,1008.8 86.8,1009.6 86.8,1004.8 C86.8,1000.0 86.8,985.9 86.8,982.1 Z" fill="none" stroke="#222" stroke-width="1.35" stroke-linejoin="round"/>
<ellipse cx="61.6" cy="975.7" rx="2.6" ry="2.3" fill="#666" stroke="#222" stroke-width="1.1"/>
<circle cx="61.300000000000004" cy="975.7" r="0.8" fill="#ddd"/>
<rect x="63.800000000000004" y="972.5" width="24.8" height="2.7" fill="#fff" stroke="#222" stroke-width="1.1"/>
<rect x="65.3" y="975.2" width="22.4" height="2.6" fill="#fff" stroke="#222" stroke-width="1.1"/>
<rect x="65.60000000000001" y="977.8" width="21.2" height="4.3" fill="#fff" stroke="#222" stroke-width="1.1"/>
<line x1="65.60000000000001" y1="979.1" x2="86.8" y2="979.1" stroke="#222" stroke-width="0.8" />
<clipPath id="t5"><path d="M144.8,982.1 C144.8,985.9 144.8,1000.0 144.8,1004.8 C144.8,1009.6 144.9,1008.8 145.0,1010.8 C145.0,1012.8 145.1,1014.5 145.3,1016.8 C145.6,1019.1 145.9,1022.1 146.3,1024.8 C146.7,1027.5 147.4,1030.1 148.0,1032.8 C148.6,1035.5 149.4,1038.5 150.1,1040.8 C150.8,1043.1 151.4,1045.1 152.0,1046.6 C152.6,1048.1 153.1,1049.2 153.5,1050.0 C153.9,1050.8 154.3,1051.0 154.6,1051.3 C154.9,1051.6 155.1,1051.6 155.4,1051.6 C155.7,1051.6 155.9,1051.6 156.2,1051.3 C156.5,1051.0 156.9,1050.8 157.3,1050.0 C157.7,1049.2 158.2,1048.1 158.8,1046.6 C159.4,1045.1 160.0,1043.1 160.7,1040.8 C161.4,1038.5 162.2,1035.5 162.8,1032.8 C163.4,1030.1 164.1,1027.5 164.5,1024.8 C164.9,1022.1 165.2,1019.1 165.5,1016.8 C165.7,1014.5 165.8,1012.8 165.8,1010.8 C165.9,1008.8 166.0,1009.6 166.0,1004.8 C166.0,1000.0 166.0,985.9 166.0,982.1 Z"/></clipPath>
<path d="M144.8,982.1 C144.8,985.9 144.8,1000.0 144.8,1004.8 C144.8,1009.6 144.9,1008.8 145.0,1010.8 C145.0,1012.8 145.1,1014.5 145.3,1016.8 C145.6,1019.1 145.9,1022.1 146.3,1024.8 C146.7,1027.5 147.4,1030.1 148.0,1032.8 C148.6,1035.5 149.4,1038.5 150.1,1040.8 C150.8,1043.1 151.4,1045.1 152.0,1046.6 C152.6,1048.1 153.1,1049.2 153.5,1050.0 C153.9,1050.8 154.3,1051.0 154.6,1051.3 C154.9,1051.6 155.1,1051.6 155.4,1051.6 C155.7,1051.6 155.9,1051.6 156.2,1051.3 C156.5,1051.0 156.9,1050.8 157.3,1050.0 C157.7,1049.2 158.2,1048.1 158.8,1046.6 C159.4,1045.1 160.0,1043.1 160.7,1040.8 C161.4,1038.5 162.2,1035.5 162.8,1032.8 C163.4,1030.1 164.1,1027.5 164.5,1024.8 C164.9,1022.1 165.2,1019.1 165.5,1016.8 C165.7,1014.5 165.8,1012.8 165.8,1010.8 C165.9,1008.8 166.0,1009.6 166.0,1004.8 C166.0,1000.0 166.0,985.9 166.0,982.1 Z" fill="#fff"/>
<g clip-path="url(#t5)">
<rect x="143.8" y="1008.6" width="23.2" height="12.299999999999955" fill="#e9e9c6"/>
<rect x="143.8" y="1020.9" width="23.2" height="22.100000000000023" fill="#f8e5dc"/>
<rect x="143.8" y="1043" width="23.2" height="13" fill="#8a7838"/>
<circle cx="156.9" cy="1033.9" r="0.65" fill="#7a3030"/>
<circle cx="158.9" cy="1037.1" r="0.65" fill="#7a3030"/>
<circle cx="158.3" cy="1036.8" r="0.65" fill="#7a3030"/>
<circle cx="149.7" cy="1029.4" r="0.65" fill="#7a3030"/>
<circle cx="160.7" cy="1032.4" r="0.65" fill="#7a3030"/>
<circle cx="160.2" cy="1023.8" r="0.65" fill="#7a3030"/>
<circle cx="155.0" cy="1025.9" r="0.65" fill="#7a3030"/>
<circle cx="155.9" cy="1031.2" r="0.65" fill="#7a3030"/>
<circle cx="149.6" cy="1025.5" r="0.65" fill="#7a3030"/>
<circle cx="152.8" cy="1036.7" r="0.65" fill="#7a3030"/>
<circle cx="158.6" cy="1024.6" r="0.65" fill="#7a3030"/>
<circle cx="159.0" cy="1024.2" r="0.65" fill="#7a3030"/>
<circle cx="156.8" cy="1024.0" r="0.65" fill="#7a3030"/>
<circle cx="149.4" cy="1035.9" r="0.65" fill="#7a3030"/>
<circle cx="151.9" cy="1025.4" r="0.65" fill="#7a3030"/>
<circle cx="161.2" cy="1036.0" r="0.65" fill="#7a3030"/>
</g>
<path d="M144.8,982.1 C144.8,985.9 144.8,1000.0 144.8,1004.8 C144.8,1009.6 144.9,1008.8 145.0,1010.8 C145.0,1012.8 145.1,1014.5 145.3,1016.8 C145.6,1019.1 145.9,1022.1 146.3,1024.8 C146.7,1027.5 147.4,1030.1 148.0,1032.8 C148.6,1035.5 149.4,1038.5 150.1,1040.8 C150.8,1043.1 151.4,1045.1 152.0,1046.6 C152.6,1048.1 153.1,1049.2 153.5,1050.0 C153.9,1050.8 154.3,1051.0 154.6,1051.3 C154.9,1051.6 155.1,1051.6 155.4,1051.6 C155.7,1051.6 155.9,1051.6 156.2,1051.3 C156.5,1051.0 156.9,1050.8 157.3,1050.0 C157.7,1049.2 158.2,1048.1 158.8,1046.6 C159.4,1045.1 160.0,1043.1 160.7,1040.8 C161.4,1038.5 162.2,1035.5 162.8,1032.8 C163.4,1030.1 164.1,1027.5 164.5,1024.8 C164.9,1022.1 165.2,1019.1 165.5,1016.8 C165.7,1014.5 165.8,1012.8 165.8,1010.8 C165.9,1008.8 166.0,1009.6 166.0,1004.8 C166.0,1000.0 166.0,985.9 166.0,982.1 Z" fill="none" stroke="#222" stroke-width="1.35" stroke-linejoin="round"/>
<ellipse cx="140.8" cy="975.7" rx="2.6" ry="2.3" fill="#666" stroke="#222" stroke-width="1.1"/>
<circle cx="140.5" cy="975.7" r="0.8" fill="#ddd"/>
<rect x="143.0" y="972.5" width="24.8" height="2.7" fill="#fff" stroke="#222" stroke-width="1.1"/>
<rect x="144.5" y="975.2" width="22.4" height="2.6" fill="#fff" stroke="#222" stroke-width="1.1"/>
<rect x="144.8" y="977.8" width="21.2" height="4.3" fill="#fff" stroke="#222" stroke-width="1.1"/>
<line x1="144.8" y1="979.1" x2="166.0" y2="979.1" stroke="#222" stroke-width="0.8" />
<path d="M100.3,834.5 C86,838.5 76.5,846 75.3,862" fill="none" stroke="#111" stroke-width="1"/>
<polygon points="72.6,861.5 77.8,861.5 75,870" fill="#111"/>
<path d="M131.6,834.5 C146,838.5 156,846 157.2,862" fill="none" stroke="#111" stroke-width="1"/>
<polygon points="154.7,861.5 159.9,861.5 157.5,870" fill="#111"/>
<text transform="translate(56.8,935.8) scale(1.045,1)" font-size="15.12" fill="#111" stroke="#111" stroke-width="0.3" text-anchor="end" >low-salt</text>
<text transform="translate(56.8,948.1) scale(1.045,1)" font-size="15.12" fill="#111" stroke="#111" stroke-width="0.3" text-anchor="end" >cushion</text>
<polyline points="64.8,924.5 60.5,924.5 60.5,950.8 64.8,950.8" fill="none" stroke="#333" stroke-width="1.4"/>
<text transform="translate(175.2,935.8) scale(1.045,1)" font-size="15.12" fill="#111" stroke="#111" stroke-width="0.3" text-anchor="start" >high-salt</text>
<text transform="translate(178,948.1) scale(1.045,1)" font-size="15.12" fill="#111" stroke="#111" stroke-width="0.3" text-anchor="start" >cushion</text>
<polyline points="167.5,924.5 172.2,924.5 172.2,950.8 167.5,950.8" fill="none" stroke="#333" stroke-width="1.4"/>
<path d="M139.2,958 C141.5,950 131,942.8 115.6,942.8 C101,942.8 91.8,948 91.8,954.3 C91.8,960.5 101,966 117,966.1" fill="none" stroke="#111" stroke-width="1"/>
<polygon points="120.9,965.5 140.2,957.3 135,962 138.2,965.8" fill="#111"/>
<polyline points="90.4,1009.3 94.6,1009.3 94.6,1038.4 90.4,1038.4" fill="none" stroke="#333" stroke-width="1.4"/>
<polyline points="90.4,1043 93.9,1043 93.9,1050 90.4,1050" fill="none" stroke="#333" stroke-width="1.4"/>
<polyline points="143,1009.3 138.6,1009.3 138.6,1038.4 143,1038.4" fill="none" stroke="#333" stroke-width="1.4"/>
<polyline points="142.5,1043 139,1043 139,1050 142.5,1050" fill="none" stroke="#333" stroke-width="1.4"/>
<text transform="translate(102.3,1026.9) scale(1.045,1)" font-size="15.12" fill="#111" stroke="#111" stroke-width="0.3" text-anchor="start" >cyto</text>
<text transform="translate(102.3,1049.7) scale(1.045,1)" font-size="15.12" fill="#111" stroke="#111" stroke-width="0.3" text-anchor="start" >ribo</text>
<text transform="translate(171,1029.7) scale(1.045,1)" font-size="15.12" fill="#111" stroke="#111" stroke-width="0.3" text-anchor="start" >released</text>
<text transform="translate(179.4,1041.0) scale(1.045,1)" font-size="15.12" fill="#111" stroke="#111" stroke-width="0.3" text-anchor="start" >factors</text>
<line x1="161.9" y1="1032.4" x2="178" y2="1037.4" stroke="#222" stroke-width="0.9" />
<text transform="translate(269.8,711) scale(1.045,1)" font-size="24.50" fill="#111" stroke="#111" stroke-width="0.3" text-anchor="start" >d</text>
<line x1="363.5" y1="701.7" x2="363.5" y2="989.7" stroke="#111" stroke-width="1.5" />
<line x1="362.8" y1="989.7" x2="652" y2="989.7" stroke="#111" stroke-width="1.5" />
<text transform="translate(360.2,995.3000000000001) scale(1.045,1)" font-size="14.93" fill="#111" stroke="#111" stroke-width="0.3" text-anchor="end" >0</text>
<line x1="363.5" y1="924.475" x2="371.1" y2="924.475" stroke="#111" stroke-width="1.5" />
<text transform="translate(360.2,930.075) scale(1.045,1)" font-size="14.93" fill="#111" stroke="#111" stroke-width="0.3" text-anchor="end" >25</text>
<line x1="363.5" y1="859.25" x2="371.1" y2="859.25" stroke="#111" stroke-width="1.5" />
<text transform="translate(360.2,864.85) scale(1.045,1)" font-size="14.93" fill="#111" stroke="#111" stroke-width="0.3" text-anchor="end" >50</text>
<line x1="363.5" y1="794.0250000000001" x2="371.1" y2="794.0250000000001" stroke="#111" stroke-width="1.5" />
<text transform="translate(360.2,799.6250000000001) scale(1.045,1)" font-size="14.93" fill="#111" stroke="#111" stroke-width="0.3" text-anchor="end" >75</text>
<line x1="363.5" y1="728.8000000000001" x2="371.1" y2="728.8000000000001" stroke="#111" stroke-width="1.5" />
<text transform="translate(360.2,734.4000000000001) scale(1.045,1)" font-size="14.93" fill="#111" stroke="#111" stroke-width="0.3" text-anchor="end" >100</text>
<text transform="translate(321.8,873.5) rotate(-90) scale(1.045,1)" font-size="15.31" fill="#111" stroke="#111" stroke-width="0.3" text-anchor="middle">ribosome-bound Hel2 [%]</text>
<rect x="385.3" y="730.9" width="44.6" height="258.20000000000005" fill="#c4954a"/>
<rect x="451.2" y="965.9" width="45" height="23.200000000000067" fill="url(#hO)"/>
<rect x="528.2" y="729.4" width="44.4" height="259.70000000000005" fill="#8aa873"/>
<rect x="593.9" y="771.8" width="45.3" height="217.3000000000001" fill="url(#hG)"/>
<text transform="translate(407,981.3) scale(1.045,1)" font-size="14.93" fill="#111" stroke="#111" stroke-width="0.3" text-anchor="middle" >99.2</text>
<rect x="486" y="967.9" width="22" height="16.9" fill="#fff"/>
<text transform="translate(486.5,981.3) scale(1.045,1)" font-size="14.93" fill="#111" stroke="#111" stroke-width="0.3" text-anchor="start" >9.0</text>
<text transform="translate(548.5,966.9) scale(1.045,1)" font-size="14.93" fill="#111" stroke="#111" stroke-width="0.3" text-anchor="middle" >99.8</text>
<rect x="598.9" y="968.2" width="33" height="16.8" fill="#fff"/>
<text transform="translate(615.5,981.3) scale(1.045,1)" font-size="14.93" fill="#111" stroke="#111" stroke-width="0.3" text-anchor="middle" >83.5</text>
<line x1="407.4" y1="728" x2="407.4" y2="732.9" stroke="#111" stroke-width="1.5" />
<line x1="402.2" y1="728" x2="412.59999999999997" y2="728" stroke="#111" stroke-width="1.5" />
<line x1="402.2" y1="732.9" x2="412.59999999999997" y2="732.9" stroke="#111" stroke-width="1.5" />
<circle cx="388.2" cy="731.2" r="2.9" fill="#fff" stroke="#111" stroke-width="1.1"/>
<circle cx="397.8" cy="728.5" r="2.9" fill="#fff" stroke="#111" stroke-width="1.1"/>
<circle cx="407.4" cy="731.2" r="2.9" fill="#fff" stroke="#111" stroke-width="1.1"/>
<circle cx="416.8" cy="728.5" r="2.9" fill="#fff" stroke="#111" stroke-width="1.1"/>
<circle cx="426.4" cy="733.8" r="2.9" fill="#fff" stroke="#111" stroke-width="1.1"/>
<line x1="473.7" y1="942.8" x2="473.7" y2="989.7" stroke="#111" stroke-width="1.5" />
<line x1="468.2" y1="942.8" x2="479.2" y2="942.8" stroke="#111" stroke-width="1.5" />
<circle cx="473.7" cy="929.7" r="2.9" fill="#fff" stroke="#111" stroke-width="1.1"/>
<circle cx="473.7" cy="958.6" r="2.9" fill="#fff" stroke="#111" stroke-width="1.1"/>
<circle cx="467.9" cy="974.1" r="2.9" fill="#fff" stroke="#111" stroke-width="1.1"/>
<circle cx="479.6" cy="979.1" r="2.9" fill="#fff" stroke="#111" stroke-width="1.1"/>
<circle cx="473.7" cy="989.6" r="2.9" fill="#fff" stroke="#111" stroke-width="1.1"/>
<line x1="549.8" y1="727.6" x2="549.8" y2="729.6" stroke="#111" stroke-width="1.5" />
<line x1="545.8" y1="727.6" x2="553.8" y2="727.6" stroke="#111" stroke-width="1.5" />
<line x1="545.8" y1="729.6" x2="553.8" y2="729.6" stroke="#111" stroke-width="1.5" />
<circle cx="531.1" cy="731.2" r="2.9" fill="#fff" stroke="#111" stroke-width="1.1"/>
<circle cx="543.4" cy="728.5" r="2.9" fill="#fff" stroke="#111" stroke-width="1.1"/>
<circle cx="555.9" cy="728.5" r="2.9" fill="#fff" stroke="#111" stroke-width="1.1"/>
<circle cx="569.1" cy="728.5" r="2.9" fill="#fff" stroke="#111" stroke-width="1.1"/>
<line x1="616.4" y1="763.6" x2="616.4" y2="779" stroke="#111" stroke-width="1.5" />
<line x1="611.4" y1="763.6" x2="621.4" y2="763.6" stroke="#111" stroke-width="1.5" />
<line x1="611.4" y1="779" x2="621.4" y2="779" stroke="#111" stroke-width="1.5" />
<circle cx="610.5" cy="765" r="2.9" fill="#fff" stroke="#111" stroke-width="1.1"/>
<circle cx="622.2" cy="765" r="2.9" fill="#fff" stroke="#111" stroke-width="1.1"/>
<circle cx="621.6" cy="775.5" r="2.9" fill="#fff" stroke="#111" stroke-width="1.1"/>
<circle cx="610.5" cy="780.8" r="2.9" fill="#fff" stroke="#111" stroke-width="1.1"/>
<text transform="translate(408.5,1007.4) scale(1.045,1)" font-size="14.93" fill="#111" stroke="#111" stroke-width="0.3" text-anchor="middle" >low</text>
<text transform="translate(474.9,1007.4) scale(1.045,1)" font-size="14.93" fill="#111" stroke="#111" stroke-width="0.3" text-anchor="middle" >high</text>
<text transform="translate(550.7,1007.4) scale(1.045,1)" font-size="14.93" fill="#111" stroke="#111" stroke-width="0.3" text-anchor="middle" >low</text>
<text transform="translate(615.8,1007.4) scale(1.045,1)" font-size="14.93" fill="#111" stroke="#111" stroke-width="0.3" text-anchor="middle" >high</text>
<text transform="translate(651.4,1006.7) scale(1.045,1)" font-size="14.93" fill="#111" stroke="#111" stroke-width="0.3" text-anchor="start" >[salt]</text>
<line x1="364.8" y1="1016.0" x2="485.4" y2="1016.0" stroke="#111" stroke-width="1.3" />
<line x1="522.4" y1="1016.0" x2="643.5" y2="1016.0" stroke="#111" stroke-width="1.3" />
<text transform="translate(381.8,1031.8) scale(1.045,1)" font-size="14.93" fill="#111" stroke="#111" stroke-width="0.3">wild type<tspan font-size="11.48" dy="4.5">log</tspan></text>
<text transform="translate(539,1031.8) scale(1.045,1)" font-size="14.93" fill="#111" stroke="#111" stroke-width="0.3">wild type<tspan font-size="11.48" dy="4.5">coll</tspan></text>
<text transform="translate(425.5,1057.3) scale(1.045,1)" font-size="14.93" fill="#c4954a" stroke="#c4954a" stroke-width="0.3" text-anchor="middle" >(no-collision)</text>
<text transform="translate(583.8,1057.3) scale(1.045,1)" font-size="14.93" fill="#8aa873" stroke="#8aa873" stroke-width="0.3" text-anchor="middle" >(collision)</text>
</svg></body></html>
